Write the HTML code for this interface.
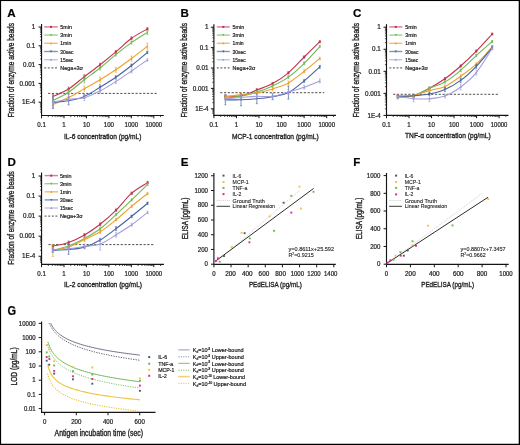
<!DOCTYPE html>
<html><head><meta charset="utf-8"><style>
html,body{margin:0;padding:0;background:#fff;width:520px;height:445px;overflow:hidden;}
svg{display:block;will-change:transform;}
text{stroke:#231f20;stroke-width:0.22px;font-family:"Liberation Sans", sans-serif;}
text.t{stroke-width:0.36px;}
text.s{stroke-width:0.12px;}
</style></head><body>
<svg width="520" height="445" viewBox="0 0 520 445" font-family='"Liberation Sans", sans-serif' fill="#231f20">
<rect x="0" y="0" width="520" height="445" fill="#fff"/>
<line x1="41.55" y1="24" x2="41.55" y2="116.05" stroke="#141414" stroke-width="1.15"/>
<line x1="41" y1="115.5" x2="163.8" y2="115.5" stroke="#141414" stroke-width="1.15"/>
<line x1="38.55" y1="27" x2="41.55" y2="27" stroke="#141414" stroke-width="1"/>
<line x1="38.55" y1="45.8" x2="41.55" y2="45.8" stroke="#141414" stroke-width="1"/>
<line x1="38.55" y1="64.6" x2="41.55" y2="64.6" stroke="#141414" stroke-width="1"/>
<line x1="38.55" y1="83.4" x2="41.55" y2="83.4" stroke="#141414" stroke-width="1"/>
<line x1="38.55" y1="102.2" x2="41.55" y2="102.2" stroke="#141414" stroke-width="1"/>
<line x1="41.55" y1="115.5" x2="41.55" y2="118.3" stroke="#141414" stroke-width="1"/>
<line x1="64" y1="115.5" x2="64" y2="118.3" stroke="#141414" stroke-width="1"/>
<line x1="86.45" y1="115.5" x2="86.45" y2="118.3" stroke="#141414" stroke-width="1"/>
<line x1="108.9" y1="115.5" x2="108.9" y2="118.3" stroke="#141414" stroke-width="1"/>
<line x1="131.35" y1="115.5" x2="131.35" y2="118.3" stroke="#141414" stroke-width="1"/>
<line x1="153.8" y1="115.5" x2="153.8" y2="118.3" stroke="#141414" stroke-width="1"/>
<line x1="39.95" y1="40.14" x2="41.55" y2="40.14" stroke="#141414" stroke-width="0.75"/>
<line x1="39.95" y1="36.83" x2="41.55" y2="36.83" stroke="#141414" stroke-width="0.75"/>
<line x1="39.95" y1="34.48" x2="41.55" y2="34.48" stroke="#141414" stroke-width="0.75"/>
<line x1="39.95" y1="32.66" x2="41.55" y2="32.66" stroke="#141414" stroke-width="0.75"/>
<line x1="39.95" y1="31.17" x2="41.55" y2="31.17" stroke="#141414" stroke-width="0.75"/>
<line x1="39.95" y1="29.91" x2="41.55" y2="29.91" stroke="#141414" stroke-width="0.75"/>
<line x1="39.95" y1="28.82" x2="41.55" y2="28.82" stroke="#141414" stroke-width="0.75"/>
<line x1="39.95" y1="27.86" x2="41.55" y2="27.86" stroke="#141414" stroke-width="0.75"/>
<line x1="39.95" y1="58.94" x2="41.55" y2="58.94" stroke="#141414" stroke-width="0.75"/>
<line x1="39.95" y1="55.63" x2="41.55" y2="55.63" stroke="#141414" stroke-width="0.75"/>
<line x1="39.95" y1="53.28" x2="41.55" y2="53.28" stroke="#141414" stroke-width="0.75"/>
<line x1="39.95" y1="51.46" x2="41.55" y2="51.46" stroke="#141414" stroke-width="0.75"/>
<line x1="39.95" y1="49.97" x2="41.55" y2="49.97" stroke="#141414" stroke-width="0.75"/>
<line x1="39.95" y1="48.71" x2="41.55" y2="48.71" stroke="#141414" stroke-width="0.75"/>
<line x1="39.95" y1="47.62" x2="41.55" y2="47.62" stroke="#141414" stroke-width="0.75"/>
<line x1="39.95" y1="46.66" x2="41.55" y2="46.66" stroke="#141414" stroke-width="0.75"/>
<line x1="39.95" y1="77.74" x2="41.55" y2="77.74" stroke="#141414" stroke-width="0.75"/>
<line x1="39.95" y1="74.43" x2="41.55" y2="74.43" stroke="#141414" stroke-width="0.75"/>
<line x1="39.95" y1="72.08" x2="41.55" y2="72.08" stroke="#141414" stroke-width="0.75"/>
<line x1="39.95" y1="70.26" x2="41.55" y2="70.26" stroke="#141414" stroke-width="0.75"/>
<line x1="39.95" y1="68.77" x2="41.55" y2="68.77" stroke="#141414" stroke-width="0.75"/>
<line x1="39.95" y1="67.51" x2="41.55" y2="67.51" stroke="#141414" stroke-width="0.75"/>
<line x1="39.95" y1="66.42" x2="41.55" y2="66.42" stroke="#141414" stroke-width="0.75"/>
<line x1="39.95" y1="65.46" x2="41.55" y2="65.46" stroke="#141414" stroke-width="0.75"/>
<line x1="39.95" y1="96.54" x2="41.55" y2="96.54" stroke="#141414" stroke-width="0.75"/>
<line x1="39.95" y1="93.23" x2="41.55" y2="93.23" stroke="#141414" stroke-width="0.75"/>
<line x1="39.95" y1="90.88" x2="41.55" y2="90.88" stroke="#141414" stroke-width="0.75"/>
<line x1="39.95" y1="89.06" x2="41.55" y2="89.06" stroke="#141414" stroke-width="0.75"/>
<line x1="39.95" y1="87.57" x2="41.55" y2="87.57" stroke="#141414" stroke-width="0.75"/>
<line x1="39.95" y1="86.31" x2="41.55" y2="86.31" stroke="#141414" stroke-width="0.75"/>
<line x1="39.95" y1="85.22" x2="41.55" y2="85.22" stroke="#141414" stroke-width="0.75"/>
<line x1="39.95" y1="84.26" x2="41.55" y2="84.26" stroke="#141414" stroke-width="0.75"/>
<line x1="39.95" y1="112.03" x2="41.55" y2="112.03" stroke="#141414" stroke-width="0.75"/>
<line x1="39.95" y1="109.68" x2="41.55" y2="109.68" stroke="#141414" stroke-width="0.75"/>
<line x1="39.95" y1="107.86" x2="41.55" y2="107.86" stroke="#141414" stroke-width="0.75"/>
<line x1="39.95" y1="106.37" x2="41.55" y2="106.37" stroke="#141414" stroke-width="0.75"/>
<line x1="39.95" y1="105.11" x2="41.55" y2="105.11" stroke="#141414" stroke-width="0.75"/>
<line x1="39.95" y1="104.02" x2="41.55" y2="104.02" stroke="#141414" stroke-width="0.75"/>
<line x1="39.95" y1="103.06" x2="41.55" y2="103.06" stroke="#141414" stroke-width="0.75"/>
<line x1="48.31" y1="115.5" x2="48.31" y2="117.1" stroke="#141414" stroke-width="0.75"/>
<line x1="52.26" y1="115.5" x2="52.26" y2="117.1" stroke="#141414" stroke-width="0.75"/>
<line x1="55.07" y1="115.5" x2="55.07" y2="117.1" stroke="#141414" stroke-width="0.75"/>
<line x1="57.24" y1="115.5" x2="57.24" y2="117.1" stroke="#141414" stroke-width="0.75"/>
<line x1="59.02" y1="115.5" x2="59.02" y2="117.1" stroke="#141414" stroke-width="0.75"/>
<line x1="60.52" y1="115.5" x2="60.52" y2="117.1" stroke="#141414" stroke-width="0.75"/>
<line x1="61.82" y1="115.5" x2="61.82" y2="117.1" stroke="#141414" stroke-width="0.75"/>
<line x1="62.97" y1="115.5" x2="62.97" y2="117.1" stroke="#141414" stroke-width="0.75"/>
<line x1="70.76" y1="115.5" x2="70.76" y2="117.1" stroke="#141414" stroke-width="0.75"/>
<line x1="74.71" y1="115.5" x2="74.71" y2="117.1" stroke="#141414" stroke-width="0.75"/>
<line x1="77.52" y1="115.5" x2="77.52" y2="117.1" stroke="#141414" stroke-width="0.75"/>
<line x1="79.69" y1="115.5" x2="79.69" y2="117.1" stroke="#141414" stroke-width="0.75"/>
<line x1="81.47" y1="115.5" x2="81.47" y2="117.1" stroke="#141414" stroke-width="0.75"/>
<line x1="82.97" y1="115.5" x2="82.97" y2="117.1" stroke="#141414" stroke-width="0.75"/>
<line x1="84.27" y1="115.5" x2="84.27" y2="117.1" stroke="#141414" stroke-width="0.75"/>
<line x1="85.42" y1="115.5" x2="85.42" y2="117.1" stroke="#141414" stroke-width="0.75"/>
<line x1="93.21" y1="115.5" x2="93.21" y2="117.1" stroke="#141414" stroke-width="0.75"/>
<line x1="97.16" y1="115.5" x2="97.16" y2="117.1" stroke="#141414" stroke-width="0.75"/>
<line x1="99.97" y1="115.5" x2="99.97" y2="117.1" stroke="#141414" stroke-width="0.75"/>
<line x1="102.14" y1="115.5" x2="102.14" y2="117.1" stroke="#141414" stroke-width="0.75"/>
<line x1="103.92" y1="115.5" x2="103.92" y2="117.1" stroke="#141414" stroke-width="0.75"/>
<line x1="105.42" y1="115.5" x2="105.42" y2="117.1" stroke="#141414" stroke-width="0.75"/>
<line x1="106.72" y1="115.5" x2="106.72" y2="117.1" stroke="#141414" stroke-width="0.75"/>
<line x1="107.87" y1="115.5" x2="107.87" y2="117.1" stroke="#141414" stroke-width="0.75"/>
<line x1="115.66" y1="115.5" x2="115.66" y2="117.1" stroke="#141414" stroke-width="0.75"/>
<line x1="119.61" y1="115.5" x2="119.61" y2="117.1" stroke="#141414" stroke-width="0.75"/>
<line x1="122.42" y1="115.5" x2="122.42" y2="117.1" stroke="#141414" stroke-width="0.75"/>
<line x1="124.59" y1="115.5" x2="124.59" y2="117.1" stroke="#141414" stroke-width="0.75"/>
<line x1="126.37" y1="115.5" x2="126.37" y2="117.1" stroke="#141414" stroke-width="0.75"/>
<line x1="127.87" y1="115.5" x2="127.87" y2="117.1" stroke="#141414" stroke-width="0.75"/>
<line x1="129.17" y1="115.5" x2="129.17" y2="117.1" stroke="#141414" stroke-width="0.75"/>
<line x1="130.32" y1="115.5" x2="130.32" y2="117.1" stroke="#141414" stroke-width="0.75"/>
<line x1="138.11" y1="115.5" x2="138.11" y2="117.1" stroke="#141414" stroke-width="0.75"/>
<line x1="142.06" y1="115.5" x2="142.06" y2="117.1" stroke="#141414" stroke-width="0.75"/>
<line x1="144.87" y1="115.5" x2="144.87" y2="117.1" stroke="#141414" stroke-width="0.75"/>
<line x1="147.04" y1="115.5" x2="147.04" y2="117.1" stroke="#141414" stroke-width="0.75"/>
<line x1="148.82" y1="115.5" x2="148.82" y2="117.1" stroke="#141414" stroke-width="0.75"/>
<line x1="150.32" y1="115.5" x2="150.32" y2="117.1" stroke="#141414" stroke-width="0.75"/>
<line x1="151.62" y1="115.5" x2="151.62" y2="117.1" stroke="#141414" stroke-width="0.75"/>
<line x1="152.77" y1="115.5" x2="152.77" y2="117.1" stroke="#141414" stroke-width="0.75"/>
<line x1="160.56" y1="115.5" x2="160.56" y2="117.1" stroke="#141414" stroke-width="0.75"/>
<text x="35.3" y="29.2" font-size="6.3" text-anchor="end">1</text>
<text x="35.3" y="48" font-size="6.3" text-anchor="end">0.1</text>
<text x="35.3" y="66.8" font-size="6.3" text-anchor="end">0.01</text>
<text x="35.3" y="85.6" font-size="6.3" text-anchor="end">0.001</text>
<text x="35.3" y="104.4" font-size="6.3" text-anchor="end">1E-4</text>
<text x="41.55" y="126.9" font-size="6.3" text-anchor="middle" textLength="8.6" lengthAdjust="spacingAndGlyphs">0.1</text>
<text x="64" y="126.9" font-size="6.3" text-anchor="middle" textLength="3.4" lengthAdjust="spacingAndGlyphs">1</text>
<text x="86.45" y="126.9" font-size="6.3" text-anchor="middle" textLength="6.9" lengthAdjust="spacingAndGlyphs">10</text>
<text x="108.9" y="126.9" font-size="6.3" text-anchor="middle" textLength="10.3" lengthAdjust="spacingAndGlyphs">100</text>
<text x="131.35" y="126.9" font-size="6.3" text-anchor="middle" textLength="13.6" lengthAdjust="spacingAndGlyphs">1000</text>
<text x="153.8" y="126.9" font-size="6.3" text-anchor="middle" textLength="16.6" lengthAdjust="spacingAndGlyphs">10000</text>
<text x="64" y="138.8" font-size="8.1" class="t" textLength="77.5" lengthAdjust="spacingAndGlyphs">IL-6 concentration (pg/mL)</text>
<text x="0" y="0" font-size="8.6" text-anchor="middle" class="t" textLength="94.4" lengthAdjust="spacingAndGlyphs" transform="translate(14.3 70.2) rotate(-90)">Fraction of enzyme active beads</text>
<text x="7.3" y="16.8" font-size="11.6" font-weight="bold" fill="#000">A</text>
<line x1="48.1" y1="93.4" x2="157" y2="93.4" stroke="#3a3a3a" stroke-width="0.9" stroke-dasharray="2.2 1.6"/>
<path d="M53 96.5C55.6 95.25 63.38 92.3 68.6 89C73.82 85.7 79.05 80.75 84.3 76.7C89.55 72.65 94.85 68.83 100.1 64.7C105.35 60.57 110.57 56.3 115.8 51.9C121.03 47.5 126.23 42.13 131.5 38.3C136.77 34.47 144.75 30.47 147.4 28.9" fill="none" stroke="#c4304e" stroke-width="1.1"/>
<line x1="53" y1="94.5" x2="53" y2="98.5" stroke="#c4304e" stroke-width="0.7"/>
<line x1="52" y1="94.5" x2="54" y2="94.5" stroke="#c4304e" stroke-width="0.6"/>
<line x1="52" y1="98.5" x2="54" y2="98.5" stroke="#c4304e" stroke-width="0.6"/>
<rect x="52" y="95.5" width="2" height="2" fill="#c4304e"/>
<line x1="68.6" y1="87" x2="68.6" y2="91" stroke="#c4304e" stroke-width="0.7"/>
<line x1="67.6" y1="87" x2="69.6" y2="87" stroke="#c4304e" stroke-width="0.6"/>
<line x1="67.6" y1="91" x2="69.6" y2="91" stroke="#c4304e" stroke-width="0.6"/>
<rect x="67.6" y="88" width="2" height="2" fill="#c4304e"/>
<line x1="84.3" y1="74.7" x2="84.3" y2="78.7" stroke="#c4304e" stroke-width="0.7"/>
<line x1="83.3" y1="74.7" x2="85.3" y2="74.7" stroke="#c4304e" stroke-width="0.6"/>
<line x1="83.3" y1="78.7" x2="85.3" y2="78.7" stroke="#c4304e" stroke-width="0.6"/>
<rect x="83.3" y="75.7" width="2" height="2" fill="#c4304e"/>
<line x1="100.1" y1="63.2" x2="100.1" y2="66.2" stroke="#c4304e" stroke-width="0.7"/>
<line x1="99.1" y1="63.2" x2="101.1" y2="63.2" stroke="#c4304e" stroke-width="0.6"/>
<line x1="99.1" y1="66.2" x2="101.1" y2="66.2" stroke="#c4304e" stroke-width="0.6"/>
<rect x="99.1" y="63.7" width="2" height="2" fill="#c4304e"/>
<line x1="115.8" y1="50.4" x2="115.8" y2="53.4" stroke="#c4304e" stroke-width="0.7"/>
<line x1="114.8" y1="50.4" x2="116.8" y2="50.4" stroke="#c4304e" stroke-width="0.6"/>
<line x1="114.8" y1="53.4" x2="116.8" y2="53.4" stroke="#c4304e" stroke-width="0.6"/>
<rect x="114.8" y="50.9" width="2" height="2" fill="#c4304e"/>
<line x1="131.5" y1="36.8" x2="131.5" y2="39.8" stroke="#c4304e" stroke-width="0.7"/>
<line x1="130.5" y1="36.8" x2="132.5" y2="36.8" stroke="#c4304e" stroke-width="0.6"/>
<line x1="130.5" y1="39.8" x2="132.5" y2="39.8" stroke="#c4304e" stroke-width="0.6"/>
<rect x="130.5" y="37.3" width="2" height="2" fill="#c4304e"/>
<line x1="147.4" y1="27.7" x2="147.4" y2="30.1" stroke="#c4304e" stroke-width="0.7"/>
<line x1="146.4" y1="27.7" x2="148.4" y2="27.7" stroke="#c4304e" stroke-width="0.6"/>
<line x1="146.4" y1="30.1" x2="148.4" y2="30.1" stroke="#c4304e" stroke-width="0.6"/>
<rect x="146.4" y="27.9" width="2" height="2" fill="#c4304e"/>
<path d="M53 100.5C55.6 99.13 63.38 95.75 68.6 92.3C73.82 88.85 79.05 83.85 84.3 79.8C89.55 75.75 94.85 72.2 100.1 68C105.35 63.8 110.57 58.83 115.8 54.6C121.03 50.37 126.23 46.3 131.5 42.6C136.77 38.9 144.75 34.1 147.4 32.4" fill="none" stroke="#6cbb55" stroke-width="1.1"/>
<line x1="53" y1="98.5" x2="53" y2="102.5" stroke="#6cbb55" stroke-width="0.7"/>
<line x1="52" y1="98.5" x2="54" y2="98.5" stroke="#6cbb55" stroke-width="0.6"/>
<line x1="52" y1="102.5" x2="54" y2="102.5" stroke="#6cbb55" stroke-width="0.6"/>
<path d="M53 101.7L54.2 99.5L51.8 99.5Z" fill="#6cbb55"/>
<line x1="68.6" y1="89.8" x2="68.6" y2="94.8" stroke="#6cbb55" stroke-width="0.7"/>
<line x1="67.6" y1="89.8" x2="69.6" y2="89.8" stroke="#6cbb55" stroke-width="0.6"/>
<line x1="67.6" y1="94.8" x2="69.6" y2="94.8" stroke="#6cbb55" stroke-width="0.6"/>
<path d="M68.6 93.5L69.8 91.3L67.4 91.3Z" fill="#6cbb55"/>
<line x1="84.3" y1="76.8" x2="84.3" y2="82.8" stroke="#6cbb55" stroke-width="0.7"/>
<line x1="83.3" y1="76.8" x2="85.3" y2="76.8" stroke="#6cbb55" stroke-width="0.6"/>
<line x1="83.3" y1="82.8" x2="85.3" y2="82.8" stroke="#6cbb55" stroke-width="0.6"/>
<path d="M84.3 81L85.5 78.8L83.1 78.8Z" fill="#6cbb55"/>
<line x1="100.1" y1="66" x2="100.1" y2="70" stroke="#6cbb55" stroke-width="0.7"/>
<line x1="99.1" y1="66" x2="101.1" y2="66" stroke="#6cbb55" stroke-width="0.6"/>
<line x1="99.1" y1="70" x2="101.1" y2="70" stroke="#6cbb55" stroke-width="0.6"/>
<path d="M100.1 69.2L101.3 67L98.9 67Z" fill="#6cbb55"/>
<line x1="115.8" y1="53.1" x2="115.8" y2="56.1" stroke="#6cbb55" stroke-width="0.7"/>
<line x1="114.8" y1="53.1" x2="116.8" y2="53.1" stroke="#6cbb55" stroke-width="0.6"/>
<line x1="114.8" y1="56.1" x2="116.8" y2="56.1" stroke="#6cbb55" stroke-width="0.6"/>
<path d="M115.8 55.8L117 53.6L114.6 53.6Z" fill="#6cbb55"/>
<line x1="131.5" y1="41.1" x2="131.5" y2="44.1" stroke="#6cbb55" stroke-width="0.7"/>
<line x1="130.5" y1="41.1" x2="132.5" y2="41.1" stroke="#6cbb55" stroke-width="0.6"/>
<line x1="130.5" y1="44.1" x2="132.5" y2="44.1" stroke="#6cbb55" stroke-width="0.6"/>
<path d="M131.5 43.8L132.7 41.6L130.3 41.6Z" fill="#6cbb55"/>
<line x1="147.4" y1="30.4" x2="147.4" y2="34.4" stroke="#6cbb55" stroke-width="0.7"/>
<line x1="146.4" y1="30.4" x2="148.4" y2="30.4" stroke="#6cbb55" stroke-width="0.6"/>
<line x1="146.4" y1="34.4" x2="148.4" y2="34.4" stroke="#6cbb55" stroke-width="0.6"/>
<path d="M147.4 33.6L148.6 31.4L146.2 31.4Z" fill="#6cbb55"/>
<path d="M53 104.5C55.6 103.33 63.38 100.13 68.6 97.5C73.82 94.87 79.05 91.67 84.3 88.7C89.55 85.73 94.85 82.85 100.1 79.7C105.35 76.55 110.57 73.33 115.8 69.8C121.03 66.27 126.23 62.43 131.5 58.5C136.77 54.57 144.75 48.25 147.4 46.2" fill="none" stroke="#eea02c" stroke-width="1.1"/>
<line x1="53" y1="101.5" x2="53" y2="107.5" stroke="#eea02c" stroke-width="0.7"/>
<line x1="52" y1="101.5" x2="54" y2="101.5" stroke="#eea02c" stroke-width="0.6"/>
<line x1="52" y1="107.5" x2="54" y2="107.5" stroke="#eea02c" stroke-width="0.6"/>
<path d="M53 103.3L54.2 105.5L51.8 105.5Z" fill="#eea02c"/>
<line x1="68.6" y1="94.5" x2="68.6" y2="100.5" stroke="#eea02c" stroke-width="0.7"/>
<line x1="67.6" y1="94.5" x2="69.6" y2="94.5" stroke="#eea02c" stroke-width="0.6"/>
<line x1="67.6" y1="100.5" x2="69.6" y2="100.5" stroke="#eea02c" stroke-width="0.6"/>
<path d="M68.6 96.3L69.8 98.5L67.4 98.5Z" fill="#eea02c"/>
<line x1="84.3" y1="86.2" x2="84.3" y2="91.2" stroke="#eea02c" stroke-width="0.7"/>
<line x1="83.3" y1="86.2" x2="85.3" y2="86.2" stroke="#eea02c" stroke-width="0.6"/>
<line x1="83.3" y1="91.2" x2="85.3" y2="91.2" stroke="#eea02c" stroke-width="0.6"/>
<path d="M84.3 87.5L85.5 89.7L83.1 89.7Z" fill="#eea02c"/>
<line x1="100.1" y1="77.2" x2="100.1" y2="82.2" stroke="#eea02c" stroke-width="0.7"/>
<line x1="99.1" y1="77.2" x2="101.1" y2="77.2" stroke="#eea02c" stroke-width="0.6"/>
<line x1="99.1" y1="82.2" x2="101.1" y2="82.2" stroke="#eea02c" stroke-width="0.6"/>
<path d="M100.1 78.5L101.3 80.7L98.9 80.7Z" fill="#eea02c"/>
<line x1="115.8" y1="67.3" x2="115.8" y2="72.3" stroke="#eea02c" stroke-width="0.7"/>
<line x1="114.8" y1="67.3" x2="116.8" y2="67.3" stroke="#eea02c" stroke-width="0.6"/>
<line x1="114.8" y1="72.3" x2="116.8" y2="72.3" stroke="#eea02c" stroke-width="0.6"/>
<path d="M115.8 68.6L117 70.8L114.6 70.8Z" fill="#eea02c"/>
<line x1="131.5" y1="56" x2="131.5" y2="61" stroke="#eea02c" stroke-width="0.7"/>
<line x1="130.5" y1="56" x2="132.5" y2="56" stroke="#eea02c" stroke-width="0.6"/>
<line x1="130.5" y1="61" x2="132.5" y2="61" stroke="#eea02c" stroke-width="0.6"/>
<path d="M131.5 57.3L132.7 59.5L130.3 59.5Z" fill="#eea02c"/>
<line x1="147.4" y1="43.2" x2="147.4" y2="49.2" stroke="#eea02c" stroke-width="0.7"/>
<line x1="146.4" y1="43.2" x2="148.4" y2="43.2" stroke="#eea02c" stroke-width="0.6"/>
<line x1="146.4" y1="49.2" x2="148.4" y2="49.2" stroke="#eea02c" stroke-width="0.6"/>
<path d="M147.4 45L148.6 47.2L146.2 47.2Z" fill="#eea02c"/>
<path d="M53 102.5C55.6 102.22 63.38 101.8 68.6 100.8C73.82 99.8 79.05 98.75 84.3 96.5C89.55 94.25 94.85 90.5 100.1 87.3C105.35 84.1 110.57 80.93 115.8 77.3C121.03 73.67 126.23 69.65 131.5 65.5C136.77 61.35 144.75 54.58 147.4 52.4" fill="none" stroke="#43649f" stroke-width="1.1"/>
<line x1="53" y1="96.5" x2="53" y2="108.5" stroke="#43649f" stroke-width="0.7"/>
<line x1="52" y1="96.5" x2="54" y2="96.5" stroke="#43649f" stroke-width="0.6"/>
<line x1="52" y1="108.5" x2="54" y2="108.5" stroke="#43649f" stroke-width="0.6"/>
<path d="M53 103.7L54.2 101.5L51.8 101.5Z" fill="#43649f"/>
<line x1="68.6" y1="96.8" x2="68.6" y2="104.8" stroke="#43649f" stroke-width="0.7"/>
<line x1="67.6" y1="96.8" x2="69.6" y2="96.8" stroke="#43649f" stroke-width="0.6"/>
<line x1="67.6" y1="104.8" x2="69.6" y2="104.8" stroke="#43649f" stroke-width="0.6"/>
<path d="M68.6 102L69.8 99.8L67.4 99.8Z" fill="#43649f"/>
<line x1="84.3" y1="94.5" x2="84.3" y2="98.5" stroke="#43649f" stroke-width="0.7"/>
<line x1="83.3" y1="94.5" x2="85.3" y2="94.5" stroke="#43649f" stroke-width="0.6"/>
<line x1="83.3" y1="98.5" x2="85.3" y2="98.5" stroke="#43649f" stroke-width="0.6"/>
<path d="M84.3 97.7L85.5 95.5L83.1 95.5Z" fill="#43649f"/>
<line x1="100.1" y1="84.8" x2="100.1" y2="89.8" stroke="#43649f" stroke-width="0.7"/>
<line x1="99.1" y1="84.8" x2="101.1" y2="84.8" stroke="#43649f" stroke-width="0.6"/>
<line x1="99.1" y1="89.8" x2="101.1" y2="89.8" stroke="#43649f" stroke-width="0.6"/>
<path d="M100.1 88.5L101.3 86.3L98.9 86.3Z" fill="#43649f"/>
<line x1="115.8" y1="75.8" x2="115.8" y2="78.8" stroke="#43649f" stroke-width="0.7"/>
<line x1="114.8" y1="75.8" x2="116.8" y2="75.8" stroke="#43649f" stroke-width="0.6"/>
<line x1="114.8" y1="78.8" x2="116.8" y2="78.8" stroke="#43649f" stroke-width="0.6"/>
<path d="M115.8 78.5L117 76.3L114.6 76.3Z" fill="#43649f"/>
<line x1="131.5" y1="64" x2="131.5" y2="67" stroke="#43649f" stroke-width="0.7"/>
<line x1="130.5" y1="64" x2="132.5" y2="64" stroke="#43649f" stroke-width="0.6"/>
<line x1="130.5" y1="67" x2="132.5" y2="67" stroke="#43649f" stroke-width="0.6"/>
<path d="M131.5 66.7L132.7 64.5L130.3 64.5Z" fill="#43649f"/>
<line x1="147.4" y1="51.2" x2="147.4" y2="53.6" stroke="#43649f" stroke-width="0.7"/>
<line x1="146.4" y1="51.2" x2="148.4" y2="51.2" stroke="#43649f" stroke-width="0.6"/>
<line x1="146.4" y1="53.6" x2="148.4" y2="53.6" stroke="#43649f" stroke-width="0.6"/>
<path d="M147.4 53.6L148.6 51.4L146.2 51.4Z" fill="#43649f"/>
<path d="M53 102C55.6 101.53 63.38 99.92 68.6 99.2C73.82 98.48 79.05 99.08 84.3 97.7C89.55 96.32 94.85 93.58 100.1 90.9C105.35 88.22 110.57 84.92 115.8 81.6C121.03 78.28 126.23 74.62 131.5 71C136.77 67.38 144.75 61.75 147.4 59.9" fill="none" stroke="#a29ddd" stroke-width="1.1"/>
<line x1="53" y1="96" x2="53" y2="108" stroke="#a29ddd" stroke-width="0.7"/>
<line x1="52" y1="96" x2="54" y2="96" stroke="#a29ddd" stroke-width="0.6"/>
<line x1="52" y1="108" x2="54" y2="108" stroke="#a29ddd" stroke-width="0.6"/>
<path d="M53 100.8L54.2 103L51.8 103Z" fill="#a29ddd"/>
<line x1="68.6" y1="94.2" x2="68.6" y2="104.2" stroke="#a29ddd" stroke-width="0.7"/>
<line x1="67.6" y1="94.2" x2="69.6" y2="94.2" stroke="#a29ddd" stroke-width="0.6"/>
<line x1="67.6" y1="104.2" x2="69.6" y2="104.2" stroke="#a29ddd" stroke-width="0.6"/>
<path d="M68.6 98L69.8 100.2L67.4 100.2Z" fill="#a29ddd"/>
<line x1="84.3" y1="94.7" x2="84.3" y2="100.7" stroke="#a29ddd" stroke-width="0.7"/>
<line x1="83.3" y1="94.7" x2="85.3" y2="94.7" stroke="#a29ddd" stroke-width="0.6"/>
<line x1="83.3" y1="100.7" x2="85.3" y2="100.7" stroke="#a29ddd" stroke-width="0.6"/>
<path d="M84.3 96.5L85.5 98.7L83.1 98.7Z" fill="#a29ddd"/>
<line x1="100.1" y1="88.9" x2="100.1" y2="92.9" stroke="#a29ddd" stroke-width="0.7"/>
<line x1="99.1" y1="88.9" x2="101.1" y2="88.9" stroke="#a29ddd" stroke-width="0.6"/>
<line x1="99.1" y1="92.9" x2="101.1" y2="92.9" stroke="#a29ddd" stroke-width="0.6"/>
<path d="M100.1 89.7L101.3 91.9L98.9 91.9Z" fill="#a29ddd"/>
<line x1="115.8" y1="79.6" x2="115.8" y2="83.6" stroke="#a29ddd" stroke-width="0.7"/>
<line x1="114.8" y1="79.6" x2="116.8" y2="79.6" stroke="#a29ddd" stroke-width="0.6"/>
<line x1="114.8" y1="83.6" x2="116.8" y2="83.6" stroke="#a29ddd" stroke-width="0.6"/>
<path d="M115.8 80.4L117 82.6L114.6 82.6Z" fill="#a29ddd"/>
<line x1="131.5" y1="69" x2="131.5" y2="73" stroke="#a29ddd" stroke-width="0.7"/>
<line x1="130.5" y1="69" x2="132.5" y2="69" stroke="#a29ddd" stroke-width="0.6"/>
<line x1="130.5" y1="73" x2="132.5" y2="73" stroke="#a29ddd" stroke-width="0.6"/>
<path d="M131.5 69.8L132.7 72L130.3 72Z" fill="#a29ddd"/>
<line x1="147.4" y1="58.7" x2="147.4" y2="61.1" stroke="#a29ddd" stroke-width="0.7"/>
<line x1="146.4" y1="58.7" x2="148.4" y2="58.7" stroke="#a29ddd" stroke-width="0.6"/>
<line x1="146.4" y1="61.1" x2="148.4" y2="61.1" stroke="#a29ddd" stroke-width="0.6"/>
<path d="M147.4 58.7L148.6 60.9L146.2 60.9Z" fill="#a29ddd"/>
<line x1="44.2" y1="26.9" x2="57.8" y2="26.9" stroke="#d77d90" stroke-width="1.4"/>
<rect x="50" y="25.9" width="2" height="2" fill="#c4304e"/>
<text x="60.3" y="28.9" font-size="5.6" textLength="11.6" lengthAdjust="spacingAndGlyphs">5min</text>
<line x1="44.2" y1="35.1" x2="57.8" y2="35.1" stroke="#9dd38d" stroke-width="1.4"/>
<path d="M51 36.3L52.2 34.1L49.8 34.1Z" fill="#6cbb55"/>
<text x="60.3" y="37.1" font-size="5.6" textLength="11.6" lengthAdjust="spacingAndGlyphs">3min</text>
<line x1="44.2" y1="43.3" x2="57.8" y2="43.3" stroke="#f2bc6a" stroke-width="1.4"/>
<path d="M51 42.1L52.2 44.3L49.8 44.3Z" fill="#eea02c"/>
<text x="60.3" y="45.3" font-size="5.6" textLength="11" lengthAdjust="spacingAndGlyphs">1min</text>
<line x1="44.2" y1="51.5" x2="57.8" y2="51.5" stroke="#7c95c0" stroke-width="1.4"/>
<path d="M51 52.7L52.2 50.5L49.8 50.5Z" fill="#43649f"/>
<text x="60.3" y="53.5" font-size="5.6" textLength="13.2" lengthAdjust="spacingAndGlyphs">30sec</text>
<line x1="44.2" y1="59.7" x2="57.8" y2="59.7" stroke="#c5c2ec" stroke-width="1.4"/>
<path d="M51 58.5L52.2 60.7L49.8 60.7Z" fill="#a29ddd"/>
<text x="60.3" y="61.7" font-size="5.6" textLength="13" lengthAdjust="spacingAndGlyphs">15sec</text>
<line x1="44.2" y1="67.9" x2="57.8" y2="67.9" stroke="#3a3a3a" stroke-width="0.9" stroke-dasharray="2 1.6"/>
<text x="60.3" y="69.9" font-size="5.6" textLength="22.7" lengthAdjust="spacingAndGlyphs">Nega+3&#963;</text>
<line x1="213.9" y1="24.2" x2="213.9" y2="115.95" stroke="#141414" stroke-width="1.15"/>
<line x1="213.35" y1="115.4" x2="336" y2="115.4" stroke="#141414" stroke-width="1.15"/>
<line x1="210.9" y1="27.2" x2="213.9" y2="27.2" stroke="#141414" stroke-width="1"/>
<line x1="210.9" y1="47.6" x2="213.9" y2="47.6" stroke="#141414" stroke-width="1"/>
<line x1="210.9" y1="68" x2="213.9" y2="68" stroke="#141414" stroke-width="1"/>
<line x1="210.9" y1="88.4" x2="213.9" y2="88.4" stroke="#141414" stroke-width="1"/>
<line x1="210.9" y1="108.8" x2="213.9" y2="108.8" stroke="#141414" stroke-width="1"/>
<line x1="213.9" y1="115.4" x2="213.9" y2="118.2" stroke="#141414" stroke-width="1"/>
<line x1="236.46" y1="115.4" x2="236.46" y2="118.2" stroke="#141414" stroke-width="1"/>
<line x1="259.02" y1="115.4" x2="259.02" y2="118.2" stroke="#141414" stroke-width="1"/>
<line x1="281.58" y1="115.4" x2="281.58" y2="118.2" stroke="#141414" stroke-width="1"/>
<line x1="304.14" y1="115.4" x2="304.14" y2="118.2" stroke="#141414" stroke-width="1"/>
<line x1="326.7" y1="115.4" x2="326.7" y2="118.2" stroke="#141414" stroke-width="1"/>
<line x1="212.3" y1="41.46" x2="213.9" y2="41.46" stroke="#141414" stroke-width="0.75"/>
<line x1="212.3" y1="37.87" x2="213.9" y2="37.87" stroke="#141414" stroke-width="0.75"/>
<line x1="212.3" y1="35.32" x2="213.9" y2="35.32" stroke="#141414" stroke-width="0.75"/>
<line x1="212.3" y1="33.34" x2="213.9" y2="33.34" stroke="#141414" stroke-width="0.75"/>
<line x1="212.3" y1="31.73" x2="213.9" y2="31.73" stroke="#141414" stroke-width="0.75"/>
<line x1="212.3" y1="30.36" x2="213.9" y2="30.36" stroke="#141414" stroke-width="0.75"/>
<line x1="212.3" y1="29.18" x2="213.9" y2="29.18" stroke="#141414" stroke-width="0.75"/>
<line x1="212.3" y1="28.13" x2="213.9" y2="28.13" stroke="#141414" stroke-width="0.75"/>
<line x1="212.3" y1="61.86" x2="213.9" y2="61.86" stroke="#141414" stroke-width="0.75"/>
<line x1="212.3" y1="58.27" x2="213.9" y2="58.27" stroke="#141414" stroke-width="0.75"/>
<line x1="212.3" y1="55.72" x2="213.9" y2="55.72" stroke="#141414" stroke-width="0.75"/>
<line x1="212.3" y1="53.74" x2="213.9" y2="53.74" stroke="#141414" stroke-width="0.75"/>
<line x1="212.3" y1="52.13" x2="213.9" y2="52.13" stroke="#141414" stroke-width="0.75"/>
<line x1="212.3" y1="50.76" x2="213.9" y2="50.76" stroke="#141414" stroke-width="0.75"/>
<line x1="212.3" y1="49.58" x2="213.9" y2="49.58" stroke="#141414" stroke-width="0.75"/>
<line x1="212.3" y1="48.53" x2="213.9" y2="48.53" stroke="#141414" stroke-width="0.75"/>
<line x1="212.3" y1="82.26" x2="213.9" y2="82.26" stroke="#141414" stroke-width="0.75"/>
<line x1="212.3" y1="78.67" x2="213.9" y2="78.67" stroke="#141414" stroke-width="0.75"/>
<line x1="212.3" y1="76.12" x2="213.9" y2="76.12" stroke="#141414" stroke-width="0.75"/>
<line x1="212.3" y1="74.14" x2="213.9" y2="74.14" stroke="#141414" stroke-width="0.75"/>
<line x1="212.3" y1="72.53" x2="213.9" y2="72.53" stroke="#141414" stroke-width="0.75"/>
<line x1="212.3" y1="71.16" x2="213.9" y2="71.16" stroke="#141414" stroke-width="0.75"/>
<line x1="212.3" y1="69.98" x2="213.9" y2="69.98" stroke="#141414" stroke-width="0.75"/>
<line x1="212.3" y1="68.93" x2="213.9" y2="68.93" stroke="#141414" stroke-width="0.75"/>
<line x1="212.3" y1="102.66" x2="213.9" y2="102.66" stroke="#141414" stroke-width="0.75"/>
<line x1="212.3" y1="99.07" x2="213.9" y2="99.07" stroke="#141414" stroke-width="0.75"/>
<line x1="212.3" y1="96.52" x2="213.9" y2="96.52" stroke="#141414" stroke-width="0.75"/>
<line x1="212.3" y1="94.54" x2="213.9" y2="94.54" stroke="#141414" stroke-width="0.75"/>
<line x1="212.3" y1="92.93" x2="213.9" y2="92.93" stroke="#141414" stroke-width="0.75"/>
<line x1="212.3" y1="91.56" x2="213.9" y2="91.56" stroke="#141414" stroke-width="0.75"/>
<line x1="212.3" y1="90.38" x2="213.9" y2="90.38" stroke="#141414" stroke-width="0.75"/>
<line x1="212.3" y1="89.33" x2="213.9" y2="89.33" stroke="#141414" stroke-width="0.75"/>
<line x1="212.3" y1="113.33" x2="213.9" y2="113.33" stroke="#141414" stroke-width="0.75"/>
<line x1="212.3" y1="111.96" x2="213.9" y2="111.96" stroke="#141414" stroke-width="0.75"/>
<line x1="212.3" y1="110.78" x2="213.9" y2="110.78" stroke="#141414" stroke-width="0.75"/>
<line x1="212.3" y1="109.73" x2="213.9" y2="109.73" stroke="#141414" stroke-width="0.75"/>
<line x1="220.69" y1="115.4" x2="220.69" y2="117" stroke="#141414" stroke-width="0.75"/>
<line x1="224.66" y1="115.4" x2="224.66" y2="117" stroke="#141414" stroke-width="0.75"/>
<line x1="227.48" y1="115.4" x2="227.48" y2="117" stroke="#141414" stroke-width="0.75"/>
<line x1="229.67" y1="115.4" x2="229.67" y2="117" stroke="#141414" stroke-width="0.75"/>
<line x1="231.46" y1="115.4" x2="231.46" y2="117" stroke="#141414" stroke-width="0.75"/>
<line x1="232.97" y1="115.4" x2="232.97" y2="117" stroke="#141414" stroke-width="0.75"/>
<line x1="234.27" y1="115.4" x2="234.27" y2="117" stroke="#141414" stroke-width="0.75"/>
<line x1="235.43" y1="115.4" x2="235.43" y2="117" stroke="#141414" stroke-width="0.75"/>
<line x1="243.25" y1="115.4" x2="243.25" y2="117" stroke="#141414" stroke-width="0.75"/>
<line x1="247.22" y1="115.4" x2="247.22" y2="117" stroke="#141414" stroke-width="0.75"/>
<line x1="250.04" y1="115.4" x2="250.04" y2="117" stroke="#141414" stroke-width="0.75"/>
<line x1="252.23" y1="115.4" x2="252.23" y2="117" stroke="#141414" stroke-width="0.75"/>
<line x1="254.02" y1="115.4" x2="254.02" y2="117" stroke="#141414" stroke-width="0.75"/>
<line x1="255.53" y1="115.4" x2="255.53" y2="117" stroke="#141414" stroke-width="0.75"/>
<line x1="256.83" y1="115.4" x2="256.83" y2="117" stroke="#141414" stroke-width="0.75"/>
<line x1="257.99" y1="115.4" x2="257.99" y2="117" stroke="#141414" stroke-width="0.75"/>
<line x1="265.81" y1="115.4" x2="265.81" y2="117" stroke="#141414" stroke-width="0.75"/>
<line x1="269.78" y1="115.4" x2="269.78" y2="117" stroke="#141414" stroke-width="0.75"/>
<line x1="272.6" y1="115.4" x2="272.6" y2="117" stroke="#141414" stroke-width="0.75"/>
<line x1="274.79" y1="115.4" x2="274.79" y2="117" stroke="#141414" stroke-width="0.75"/>
<line x1="276.58" y1="115.4" x2="276.58" y2="117" stroke="#141414" stroke-width="0.75"/>
<line x1="278.09" y1="115.4" x2="278.09" y2="117" stroke="#141414" stroke-width="0.75"/>
<line x1="279.39" y1="115.4" x2="279.39" y2="117" stroke="#141414" stroke-width="0.75"/>
<line x1="280.55" y1="115.4" x2="280.55" y2="117" stroke="#141414" stroke-width="0.75"/>
<line x1="288.37" y1="115.4" x2="288.37" y2="117" stroke="#141414" stroke-width="0.75"/>
<line x1="292.34" y1="115.4" x2="292.34" y2="117" stroke="#141414" stroke-width="0.75"/>
<line x1="295.16" y1="115.4" x2="295.16" y2="117" stroke="#141414" stroke-width="0.75"/>
<line x1="297.35" y1="115.4" x2="297.35" y2="117" stroke="#141414" stroke-width="0.75"/>
<line x1="299.14" y1="115.4" x2="299.14" y2="117" stroke="#141414" stroke-width="0.75"/>
<line x1="300.65" y1="115.4" x2="300.65" y2="117" stroke="#141414" stroke-width="0.75"/>
<line x1="301.95" y1="115.4" x2="301.95" y2="117" stroke="#141414" stroke-width="0.75"/>
<line x1="303.11" y1="115.4" x2="303.11" y2="117" stroke="#141414" stroke-width="0.75"/>
<line x1="310.93" y1="115.4" x2="310.93" y2="117" stroke="#141414" stroke-width="0.75"/>
<line x1="314.9" y1="115.4" x2="314.9" y2="117" stroke="#141414" stroke-width="0.75"/>
<line x1="317.72" y1="115.4" x2="317.72" y2="117" stroke="#141414" stroke-width="0.75"/>
<line x1="319.91" y1="115.4" x2="319.91" y2="117" stroke="#141414" stroke-width="0.75"/>
<line x1="321.7" y1="115.4" x2="321.7" y2="117" stroke="#141414" stroke-width="0.75"/>
<line x1="323.21" y1="115.4" x2="323.21" y2="117" stroke="#141414" stroke-width="0.75"/>
<line x1="324.51" y1="115.4" x2="324.51" y2="117" stroke="#141414" stroke-width="0.75"/>
<line x1="325.67" y1="115.4" x2="325.67" y2="117" stroke="#141414" stroke-width="0.75"/>
<line x1="333.49" y1="115.4" x2="333.49" y2="117" stroke="#141414" stroke-width="0.75"/>
<text x="208.6" y="29.4" font-size="6.3" text-anchor="end">1</text>
<text x="208.6" y="49.8" font-size="6.3" text-anchor="end">0.1</text>
<text x="208.6" y="70.2" font-size="6.3" text-anchor="end">0.01</text>
<text x="208.6" y="90.6" font-size="6.3" text-anchor="end">0.001</text>
<text x="208.6" y="111" font-size="6.3" text-anchor="end">1E-4</text>
<text x="213.9" y="126.8" font-size="6.3" text-anchor="middle" textLength="8.6" lengthAdjust="spacingAndGlyphs">0.1</text>
<text x="236.46" y="126.8" font-size="6.3" text-anchor="middle" textLength="3.4" lengthAdjust="spacingAndGlyphs">1</text>
<text x="259.02" y="126.8" font-size="6.3" text-anchor="middle" textLength="6.9" lengthAdjust="spacingAndGlyphs">10</text>
<text x="281.58" y="126.8" font-size="6.3" text-anchor="middle" textLength="10.3" lengthAdjust="spacingAndGlyphs">100</text>
<text x="304.14" y="126.8" font-size="6.3" text-anchor="middle" textLength="13.6" lengthAdjust="spacingAndGlyphs">1000</text>
<text x="326.7" y="126.8" font-size="6.3" text-anchor="middle" textLength="16.6" lengthAdjust="spacingAndGlyphs">10000</text>
<text x="231.9" y="138.6" font-size="8.1" class="t" textLength="86.8" lengthAdjust="spacingAndGlyphs">MCP-1 concentration (pg/mL)</text>
<text x="0" y="0" font-size="8.6" text-anchor="middle" class="t" textLength="94.4" lengthAdjust="spacingAndGlyphs" transform="translate(186.8 70.2) rotate(-90)">Fraction of enzyme active beads</text>
<text x="180.6" y="16.8" font-size="11.6" font-weight="bold" fill="#000">B</text>
<line x1="220.2" y1="92.7" x2="324.3" y2="92.7" stroke="#3a3a3a" stroke-width="0.9" stroke-dasharray="2.2 1.6"/>
<path d="M225.4 96.3C228 96.22 235.77 96.85 241 95.8C246.23 94.75 251.53 92.03 256.8 90C262.07 87.97 267.33 86.47 272.6 83.6C277.87 80.73 283.13 77.23 288.4 72.8C293.67 68.37 298.97 62.18 304.2 57C309.43 51.82 317.2 44.25 319.8 41.7" fill="none" stroke="#c4304e" stroke-width="1.1"/>
<line x1="225.4" y1="94.8" x2="225.4" y2="97.8" stroke="#c4304e" stroke-width="0.7"/>
<line x1="224.4" y1="94.8" x2="226.4" y2="94.8" stroke="#c4304e" stroke-width="0.6"/>
<line x1="224.4" y1="97.8" x2="226.4" y2="97.8" stroke="#c4304e" stroke-width="0.6"/>
<rect x="224.4" y="95.3" width="2" height="2" fill="#c4304e"/>
<line x1="241" y1="94.3" x2="241" y2="97.3" stroke="#c4304e" stroke-width="0.7"/>
<line x1="240" y1="94.3" x2="242" y2="94.3" stroke="#c4304e" stroke-width="0.6"/>
<line x1="240" y1="97.3" x2="242" y2="97.3" stroke="#c4304e" stroke-width="0.6"/>
<rect x="240" y="94.8" width="2" height="2" fill="#c4304e"/>
<line x1="256.8" y1="88.5" x2="256.8" y2="91.5" stroke="#c4304e" stroke-width="0.7"/>
<line x1="255.8" y1="88.5" x2="257.8" y2="88.5" stroke="#c4304e" stroke-width="0.6"/>
<line x1="255.8" y1="91.5" x2="257.8" y2="91.5" stroke="#c4304e" stroke-width="0.6"/>
<rect x="255.8" y="89" width="2" height="2" fill="#c4304e"/>
<line x1="272.6" y1="82.4" x2="272.6" y2="84.8" stroke="#c4304e" stroke-width="0.7"/>
<line x1="271.6" y1="82.4" x2="273.6" y2="82.4" stroke="#c4304e" stroke-width="0.6"/>
<line x1="271.6" y1="84.8" x2="273.6" y2="84.8" stroke="#c4304e" stroke-width="0.6"/>
<rect x="271.6" y="82.6" width="2" height="2" fill="#c4304e"/>
<line x1="288.4" y1="71.6" x2="288.4" y2="74" stroke="#c4304e" stroke-width="0.7"/>
<line x1="287.4" y1="71.6" x2="289.4" y2="71.6" stroke="#c4304e" stroke-width="0.6"/>
<line x1="287.4" y1="74" x2="289.4" y2="74" stroke="#c4304e" stroke-width="0.6"/>
<rect x="287.4" y="71.8" width="2" height="2" fill="#c4304e"/>
<line x1="304.2" y1="55.8" x2="304.2" y2="58.2" stroke="#c4304e" stroke-width="0.7"/>
<line x1="303.2" y1="55.8" x2="305.2" y2="55.8" stroke="#c4304e" stroke-width="0.6"/>
<line x1="303.2" y1="58.2" x2="305.2" y2="58.2" stroke="#c4304e" stroke-width="0.6"/>
<rect x="303.2" y="56" width="2" height="2" fill="#c4304e"/>
<line x1="319.8" y1="40.7" x2="319.8" y2="42.7" stroke="#c4304e" stroke-width="0.7"/>
<line x1="318.8" y1="40.7" x2="320.8" y2="40.7" stroke="#c4304e" stroke-width="0.6"/>
<line x1="318.8" y1="42.7" x2="320.8" y2="42.7" stroke="#c4304e" stroke-width="0.6"/>
<rect x="318.8" y="40.7" width="2" height="2" fill="#c4304e"/>
<path d="M225.4 98.1C228 97.8 235.77 97.3 241 96.3C246.23 95.3 251.53 93.82 256.8 92.1C262.07 90.38 267.33 88.5 272.6 86C277.87 83.5 283.13 80.88 288.4 77.1C293.67 73.32 298.97 68.4 304.2 63.3C309.43 58.2 317.2 49.3 319.8 46.5" fill="none" stroke="#6cbb55" stroke-width="1.1"/>
<line x1="225.4" y1="96.6" x2="225.4" y2="99.6" stroke="#6cbb55" stroke-width="0.7"/>
<line x1="224.4" y1="96.6" x2="226.4" y2="96.6" stroke="#6cbb55" stroke-width="0.6"/>
<line x1="224.4" y1="99.6" x2="226.4" y2="99.6" stroke="#6cbb55" stroke-width="0.6"/>
<path d="M225.4 99.3L226.6 97.1L224.2 97.1Z" fill="#6cbb55"/>
<line x1="241" y1="94.8" x2="241" y2="97.8" stroke="#6cbb55" stroke-width="0.7"/>
<line x1="240" y1="94.8" x2="242" y2="94.8" stroke="#6cbb55" stroke-width="0.6"/>
<line x1="240" y1="97.8" x2="242" y2="97.8" stroke="#6cbb55" stroke-width="0.6"/>
<path d="M241 97.5L242.2 95.3L239.8 95.3Z" fill="#6cbb55"/>
<line x1="256.8" y1="90.6" x2="256.8" y2="93.6" stroke="#6cbb55" stroke-width="0.7"/>
<line x1="255.8" y1="90.6" x2="257.8" y2="90.6" stroke="#6cbb55" stroke-width="0.6"/>
<line x1="255.8" y1="93.6" x2="257.8" y2="93.6" stroke="#6cbb55" stroke-width="0.6"/>
<path d="M256.8 93.3L258 91.1L255.6 91.1Z" fill="#6cbb55"/>
<line x1="272.6" y1="84.5" x2="272.6" y2="87.5" stroke="#6cbb55" stroke-width="0.7"/>
<line x1="271.6" y1="84.5" x2="273.6" y2="84.5" stroke="#6cbb55" stroke-width="0.6"/>
<line x1="271.6" y1="87.5" x2="273.6" y2="87.5" stroke="#6cbb55" stroke-width="0.6"/>
<path d="M272.6 87.2L273.8 85L271.4 85Z" fill="#6cbb55"/>
<line x1="288.4" y1="75.6" x2="288.4" y2="78.6" stroke="#6cbb55" stroke-width="0.7"/>
<line x1="287.4" y1="75.6" x2="289.4" y2="75.6" stroke="#6cbb55" stroke-width="0.6"/>
<line x1="287.4" y1="78.6" x2="289.4" y2="78.6" stroke="#6cbb55" stroke-width="0.6"/>
<path d="M288.4 78.3L289.6 76.1L287.2 76.1Z" fill="#6cbb55"/>
<line x1="304.2" y1="61.8" x2="304.2" y2="64.8" stroke="#6cbb55" stroke-width="0.7"/>
<line x1="303.2" y1="61.8" x2="305.2" y2="61.8" stroke="#6cbb55" stroke-width="0.6"/>
<line x1="303.2" y1="64.8" x2="305.2" y2="64.8" stroke="#6cbb55" stroke-width="0.6"/>
<path d="M304.2 64.5L305.4 62.3L303 62.3Z" fill="#6cbb55"/>
<line x1="319.8" y1="45.3" x2="319.8" y2="47.7" stroke="#6cbb55" stroke-width="0.7"/>
<line x1="318.8" y1="45.3" x2="320.8" y2="45.3" stroke="#6cbb55" stroke-width="0.6"/>
<line x1="318.8" y1="47.7" x2="320.8" y2="47.7" stroke="#6cbb55" stroke-width="0.6"/>
<path d="M319.8 47.7L321 45.5L318.6 45.5Z" fill="#6cbb55"/>
<path d="M225.4 96.9C228 96.52 235.77 95.27 241 94.6C246.23 93.93 251.53 93.85 256.8 92.9C262.07 91.95 267.33 90.55 272.6 88.9C277.87 87.25 283.13 85.93 288.4 83C293.67 80.07 298.97 75.4 304.2 71.3C309.43 67.2 317.2 60.55 319.8 58.4" fill="none" stroke="#eea02c" stroke-width="1.1"/>
<line x1="225.4" y1="95.4" x2="225.4" y2="98.4" stroke="#eea02c" stroke-width="0.7"/>
<line x1="224.4" y1="95.4" x2="226.4" y2="95.4" stroke="#eea02c" stroke-width="0.6"/>
<line x1="224.4" y1="98.4" x2="226.4" y2="98.4" stroke="#eea02c" stroke-width="0.6"/>
<path d="M225.4 95.7L226.6 97.9L224.2 97.9Z" fill="#eea02c"/>
<line x1="241" y1="93.1" x2="241" y2="96.1" stroke="#eea02c" stroke-width="0.7"/>
<line x1="240" y1="93.1" x2="242" y2="93.1" stroke="#eea02c" stroke-width="0.6"/>
<line x1="240" y1="96.1" x2="242" y2="96.1" stroke="#eea02c" stroke-width="0.6"/>
<path d="M241 93.4L242.2 95.6L239.8 95.6Z" fill="#eea02c"/>
<line x1="256.8" y1="91.4" x2="256.8" y2="94.4" stroke="#eea02c" stroke-width="0.7"/>
<line x1="255.8" y1="91.4" x2="257.8" y2="91.4" stroke="#eea02c" stroke-width="0.6"/>
<line x1="255.8" y1="94.4" x2="257.8" y2="94.4" stroke="#eea02c" stroke-width="0.6"/>
<path d="M256.8 91.7L258 93.9L255.6 93.9Z" fill="#eea02c"/>
<line x1="272.6" y1="86.9" x2="272.6" y2="90.9" stroke="#eea02c" stroke-width="0.7"/>
<line x1="271.6" y1="86.9" x2="273.6" y2="86.9" stroke="#eea02c" stroke-width="0.6"/>
<line x1="271.6" y1="90.9" x2="273.6" y2="90.9" stroke="#eea02c" stroke-width="0.6"/>
<path d="M272.6 87.7L273.8 89.9L271.4 89.9Z" fill="#eea02c"/>
<line x1="288.4" y1="81" x2="288.4" y2="85" stroke="#eea02c" stroke-width="0.7"/>
<line x1="287.4" y1="81" x2="289.4" y2="81" stroke="#eea02c" stroke-width="0.6"/>
<line x1="287.4" y1="85" x2="289.4" y2="85" stroke="#eea02c" stroke-width="0.6"/>
<path d="M288.4 81.8L289.6 84L287.2 84Z" fill="#eea02c"/>
<line x1="304.2" y1="69.8" x2="304.2" y2="72.8" stroke="#eea02c" stroke-width="0.7"/>
<line x1="303.2" y1="69.8" x2="305.2" y2="69.8" stroke="#eea02c" stroke-width="0.6"/>
<line x1="303.2" y1="72.8" x2="305.2" y2="72.8" stroke="#eea02c" stroke-width="0.6"/>
<path d="M304.2 70.1L305.4 72.3L303 72.3Z" fill="#eea02c"/>
<line x1="319.8" y1="57.2" x2="319.8" y2="59.6" stroke="#eea02c" stroke-width="0.7"/>
<line x1="318.8" y1="57.2" x2="320.8" y2="57.2" stroke="#eea02c" stroke-width="0.6"/>
<line x1="318.8" y1="59.6" x2="320.8" y2="59.6" stroke="#eea02c" stroke-width="0.6"/>
<path d="M319.8 57.2L321 59.4L318.6 59.4Z" fill="#eea02c"/>
<path d="M225.4 99.8C228 99.8 235.77 99.98 241 99.8C246.23 99.62 251.53 99.22 256.8 98.7C262.07 98.18 267.33 97.72 272.6 96.7C277.87 95.68 283.13 95.23 288.4 92.6C293.67 89.97 298.97 85.18 304.2 80.9C309.43 76.62 317.2 69.23 319.8 66.9" fill="none" stroke="#43649f" stroke-width="1.1"/>
<line x1="225.4" y1="94.8" x2="225.4" y2="104.8" stroke="#43649f" stroke-width="0.7"/>
<line x1="224.4" y1="94.8" x2="226.4" y2="94.8" stroke="#43649f" stroke-width="0.6"/>
<line x1="224.4" y1="104.8" x2="226.4" y2="104.8" stroke="#43649f" stroke-width="0.6"/>
<path d="M225.4 101L226.6 98.8L224.2 98.8Z" fill="#43649f"/>
<line x1="241" y1="93.8" x2="241" y2="105.8" stroke="#43649f" stroke-width="0.7"/>
<line x1="240" y1="93.8" x2="242" y2="93.8" stroke="#43649f" stroke-width="0.6"/>
<line x1="240" y1="105.8" x2="242" y2="105.8" stroke="#43649f" stroke-width="0.6"/>
<path d="M241 101L242.2 98.8L239.8 98.8Z" fill="#43649f"/>
<line x1="256.8" y1="93.7" x2="256.8" y2="103.7" stroke="#43649f" stroke-width="0.7"/>
<line x1="255.8" y1="93.7" x2="257.8" y2="93.7" stroke="#43649f" stroke-width="0.6"/>
<line x1="255.8" y1="103.7" x2="257.8" y2="103.7" stroke="#43649f" stroke-width="0.6"/>
<path d="M256.8 99.9L258 97.7L255.6 97.7Z" fill="#43649f"/>
<line x1="272.6" y1="93.7" x2="272.6" y2="99.7" stroke="#43649f" stroke-width="0.7"/>
<line x1="271.6" y1="93.7" x2="273.6" y2="93.7" stroke="#43649f" stroke-width="0.6"/>
<line x1="271.6" y1="99.7" x2="273.6" y2="99.7" stroke="#43649f" stroke-width="0.6"/>
<path d="M272.6 97.9L273.8 95.7L271.4 95.7Z" fill="#43649f"/>
<line x1="288.4" y1="86.1" x2="288.4" y2="99.1" stroke="#43649f" stroke-width="0.7"/>
<line x1="287.4" y1="86.1" x2="289.4" y2="86.1" stroke="#43649f" stroke-width="0.6"/>
<line x1="287.4" y1="99.1" x2="289.4" y2="99.1" stroke="#43649f" stroke-width="0.6"/>
<path d="M288.4 93.8L289.6 91.6L287.2 91.6Z" fill="#43649f"/>
<line x1="304.2" y1="79.4" x2="304.2" y2="82.4" stroke="#43649f" stroke-width="0.7"/>
<line x1="303.2" y1="79.4" x2="305.2" y2="79.4" stroke="#43649f" stroke-width="0.6"/>
<line x1="303.2" y1="82.4" x2="305.2" y2="82.4" stroke="#43649f" stroke-width="0.6"/>
<path d="M304.2 82.1L305.4 79.9L303 79.9Z" fill="#43649f"/>
<line x1="319.8" y1="65.4" x2="319.8" y2="68.4" stroke="#43649f" stroke-width="0.7"/>
<line x1="318.8" y1="65.4" x2="320.8" y2="65.4" stroke="#43649f" stroke-width="0.6"/>
<line x1="318.8" y1="68.4" x2="320.8" y2="68.4" stroke="#43649f" stroke-width="0.6"/>
<path d="M319.8 68.1L321 65.9L318.6 65.9Z" fill="#43649f"/>
<path d="M225.4 98.7C228 98.5 235.77 97.9 241 97.5C246.23 97.1 251.53 96.48 256.8 96.3C262.07 96.12 267.33 97.12 272.6 96.4C277.87 95.68 283.13 93.53 288.4 92C293.67 90.47 298.97 89.05 304.2 87.2C309.43 85.35 317.2 81.95 319.8 80.9" fill="none" stroke="#a29ddd" stroke-width="1.1"/>
<line x1="225.4" y1="95.7" x2="225.4" y2="101.7" stroke="#a29ddd" stroke-width="0.7"/>
<line x1="224.4" y1="95.7" x2="226.4" y2="95.7" stroke="#a29ddd" stroke-width="0.6"/>
<line x1="224.4" y1="101.7" x2="226.4" y2="101.7" stroke="#a29ddd" stroke-width="0.6"/>
<path d="M225.4 97.5L226.6 99.7L224.2 99.7Z" fill="#a29ddd"/>
<line x1="241" y1="94.5" x2="241" y2="100.5" stroke="#a29ddd" stroke-width="0.7"/>
<line x1="240" y1="94.5" x2="242" y2="94.5" stroke="#a29ddd" stroke-width="0.6"/>
<line x1="240" y1="100.5" x2="242" y2="100.5" stroke="#a29ddd" stroke-width="0.6"/>
<path d="M241 96.3L242.2 98.5L239.8 98.5Z" fill="#a29ddd"/>
<line x1="256.8" y1="93.3" x2="256.8" y2="99.3" stroke="#a29ddd" stroke-width="0.7"/>
<line x1="255.8" y1="93.3" x2="257.8" y2="93.3" stroke="#a29ddd" stroke-width="0.6"/>
<line x1="255.8" y1="99.3" x2="257.8" y2="99.3" stroke="#a29ddd" stroke-width="0.6"/>
<path d="M256.8 95.1L258 97.3L255.6 97.3Z" fill="#a29ddd"/>
<line x1="272.6" y1="93.4" x2="272.6" y2="99.4" stroke="#a29ddd" stroke-width="0.7"/>
<line x1="271.6" y1="93.4" x2="273.6" y2="93.4" stroke="#a29ddd" stroke-width="0.6"/>
<line x1="271.6" y1="99.4" x2="273.6" y2="99.4" stroke="#a29ddd" stroke-width="0.6"/>
<path d="M272.6 95.2L273.8 97.4L271.4 97.4Z" fill="#a29ddd"/>
<line x1="288.4" y1="89.5" x2="288.4" y2="94.5" stroke="#a29ddd" stroke-width="0.7"/>
<line x1="287.4" y1="89.5" x2="289.4" y2="89.5" stroke="#a29ddd" stroke-width="0.6"/>
<line x1="287.4" y1="94.5" x2="289.4" y2="94.5" stroke="#a29ddd" stroke-width="0.6"/>
<path d="M288.4 90.8L289.6 93L287.2 93Z" fill="#a29ddd"/>
<line x1="304.2" y1="85.2" x2="304.2" y2="89.2" stroke="#a29ddd" stroke-width="0.7"/>
<line x1="303.2" y1="85.2" x2="305.2" y2="85.2" stroke="#a29ddd" stroke-width="0.6"/>
<line x1="303.2" y1="89.2" x2="305.2" y2="89.2" stroke="#a29ddd" stroke-width="0.6"/>
<path d="M304.2 86L305.4 88.2L303 88.2Z" fill="#a29ddd"/>
<line x1="319.8" y1="78.9" x2="319.8" y2="82.9" stroke="#a29ddd" stroke-width="0.7"/>
<line x1="318.8" y1="78.9" x2="320.8" y2="78.9" stroke="#a29ddd" stroke-width="0.6"/>
<line x1="318.8" y1="82.9" x2="320.8" y2="82.9" stroke="#a29ddd" stroke-width="0.6"/>
<path d="M319.8 79.7L321 81.9L318.6 81.9Z" fill="#a29ddd"/>
<line x1="216.8" y1="26.9" x2="229.8" y2="26.9" stroke="#d77d90" stroke-width="1.4"/>
<rect x="222.3" y="25.9" width="2" height="2" fill="#c4304e"/>
<text x="232.6" y="28.9" font-size="5.6" textLength="11.6" lengthAdjust="spacingAndGlyphs">5min</text>
<line x1="216.8" y1="35.1" x2="229.8" y2="35.1" stroke="#9dd38d" stroke-width="1.4"/>
<path d="M223.3 36.3L224.5 34.1L222.1 34.1Z" fill="#6cbb55"/>
<text x="232.6" y="37.1" font-size="5.6" textLength="11.6" lengthAdjust="spacingAndGlyphs">3min</text>
<line x1="216.8" y1="43.3" x2="229.8" y2="43.3" stroke="#f2bc6a" stroke-width="1.4"/>
<path d="M223.3 42.1L224.5 44.3L222.1 44.3Z" fill="#eea02c"/>
<text x="232.6" y="45.3" font-size="5.6" textLength="11" lengthAdjust="spacingAndGlyphs">1min</text>
<line x1="216.8" y1="51.5" x2="229.8" y2="51.5" stroke="#7c95c0" stroke-width="1.4"/>
<path d="M223.3 52.7L224.5 50.5L222.1 50.5Z" fill="#43649f"/>
<text x="232.6" y="53.5" font-size="5.6" textLength="13.2" lengthAdjust="spacingAndGlyphs">30sec</text>
<line x1="216.8" y1="59.7" x2="229.8" y2="59.7" stroke="#c5c2ec" stroke-width="1.4"/>
<path d="M223.3 58.5L224.5 60.7L222.1 60.7Z" fill="#a29ddd"/>
<text x="232.6" y="61.7" font-size="5.6" textLength="13" lengthAdjust="spacingAndGlyphs">15sec</text>
<line x1="216.8" y1="67.9" x2="229.8" y2="67.9" stroke="#3a3a3a" stroke-width="0.9" stroke-dasharray="2 1.6"/>
<text x="232.6" y="69.9" font-size="5.6" textLength="22.7" lengthAdjust="spacingAndGlyphs">Nega+3&#963;</text>
<line x1="386.5" y1="24.2" x2="386.5" y2="115.95" stroke="#141414" stroke-width="1.15"/>
<line x1="385.95" y1="115.4" x2="508.5" y2="115.4" stroke="#141414" stroke-width="1.15"/>
<line x1="383.5" y1="27.2" x2="386.5" y2="27.2" stroke="#141414" stroke-width="1"/>
<line x1="383.5" y1="49.25" x2="386.5" y2="49.25" stroke="#141414" stroke-width="1"/>
<line x1="383.5" y1="71.3" x2="386.5" y2="71.3" stroke="#141414" stroke-width="1"/>
<line x1="383.5" y1="93.35" x2="386.5" y2="93.35" stroke="#141414" stroke-width="1"/>
<line x1="383.5" y1="115.4" x2="386.5" y2="115.4" stroke="#141414" stroke-width="1"/>
<line x1="386.5" y1="115.4" x2="386.5" y2="118.2" stroke="#141414" stroke-width="1"/>
<line x1="409.02" y1="115.4" x2="409.02" y2="118.2" stroke="#141414" stroke-width="1"/>
<line x1="431.54" y1="115.4" x2="431.54" y2="118.2" stroke="#141414" stroke-width="1"/>
<line x1="454.06" y1="115.4" x2="454.06" y2="118.2" stroke="#141414" stroke-width="1"/>
<line x1="476.58" y1="115.4" x2="476.58" y2="118.2" stroke="#141414" stroke-width="1"/>
<line x1="499.1" y1="115.4" x2="499.1" y2="118.2" stroke="#141414" stroke-width="1"/>
<line x1="384.9" y1="42.61" x2="386.5" y2="42.61" stroke="#141414" stroke-width="0.75"/>
<line x1="384.9" y1="38.73" x2="386.5" y2="38.73" stroke="#141414" stroke-width="0.75"/>
<line x1="384.9" y1="35.97" x2="386.5" y2="35.97" stroke="#141414" stroke-width="0.75"/>
<line x1="384.9" y1="33.84" x2="386.5" y2="33.84" stroke="#141414" stroke-width="0.75"/>
<line x1="384.9" y1="32.09" x2="386.5" y2="32.09" stroke="#141414" stroke-width="0.75"/>
<line x1="384.9" y1="30.62" x2="386.5" y2="30.62" stroke="#141414" stroke-width="0.75"/>
<line x1="384.9" y1="29.34" x2="386.5" y2="29.34" stroke="#141414" stroke-width="0.75"/>
<line x1="384.9" y1="28.21" x2="386.5" y2="28.21" stroke="#141414" stroke-width="0.75"/>
<line x1="384.9" y1="64.66" x2="386.5" y2="64.66" stroke="#141414" stroke-width="0.75"/>
<line x1="384.9" y1="60.78" x2="386.5" y2="60.78" stroke="#141414" stroke-width="0.75"/>
<line x1="384.9" y1="58.02" x2="386.5" y2="58.02" stroke="#141414" stroke-width="0.75"/>
<line x1="384.9" y1="55.89" x2="386.5" y2="55.89" stroke="#141414" stroke-width="0.75"/>
<line x1="384.9" y1="54.14" x2="386.5" y2="54.14" stroke="#141414" stroke-width="0.75"/>
<line x1="384.9" y1="52.67" x2="386.5" y2="52.67" stroke="#141414" stroke-width="0.75"/>
<line x1="384.9" y1="51.39" x2="386.5" y2="51.39" stroke="#141414" stroke-width="0.75"/>
<line x1="384.9" y1="50.26" x2="386.5" y2="50.26" stroke="#141414" stroke-width="0.75"/>
<line x1="384.9" y1="86.71" x2="386.5" y2="86.71" stroke="#141414" stroke-width="0.75"/>
<line x1="384.9" y1="82.83" x2="386.5" y2="82.83" stroke="#141414" stroke-width="0.75"/>
<line x1="384.9" y1="80.07" x2="386.5" y2="80.07" stroke="#141414" stroke-width="0.75"/>
<line x1="384.9" y1="77.94" x2="386.5" y2="77.94" stroke="#141414" stroke-width="0.75"/>
<line x1="384.9" y1="76.19" x2="386.5" y2="76.19" stroke="#141414" stroke-width="0.75"/>
<line x1="384.9" y1="74.72" x2="386.5" y2="74.72" stroke="#141414" stroke-width="0.75"/>
<line x1="384.9" y1="73.44" x2="386.5" y2="73.44" stroke="#141414" stroke-width="0.75"/>
<line x1="384.9" y1="72.31" x2="386.5" y2="72.31" stroke="#141414" stroke-width="0.75"/>
<line x1="384.9" y1="108.76" x2="386.5" y2="108.76" stroke="#141414" stroke-width="0.75"/>
<line x1="384.9" y1="104.88" x2="386.5" y2="104.88" stroke="#141414" stroke-width="0.75"/>
<line x1="384.9" y1="102.12" x2="386.5" y2="102.12" stroke="#141414" stroke-width="0.75"/>
<line x1="384.9" y1="99.99" x2="386.5" y2="99.99" stroke="#141414" stroke-width="0.75"/>
<line x1="384.9" y1="98.24" x2="386.5" y2="98.24" stroke="#141414" stroke-width="0.75"/>
<line x1="384.9" y1="96.77" x2="386.5" y2="96.77" stroke="#141414" stroke-width="0.75"/>
<line x1="384.9" y1="95.49" x2="386.5" y2="95.49" stroke="#141414" stroke-width="0.75"/>
<line x1="384.9" y1="94.36" x2="386.5" y2="94.36" stroke="#141414" stroke-width="0.75"/>
<line x1="393.28" y1="115.4" x2="393.28" y2="117" stroke="#141414" stroke-width="0.75"/>
<line x1="397.24" y1="115.4" x2="397.24" y2="117" stroke="#141414" stroke-width="0.75"/>
<line x1="400.06" y1="115.4" x2="400.06" y2="117" stroke="#141414" stroke-width="0.75"/>
<line x1="402.24" y1="115.4" x2="402.24" y2="117" stroke="#141414" stroke-width="0.75"/>
<line x1="404.02" y1="115.4" x2="404.02" y2="117" stroke="#141414" stroke-width="0.75"/>
<line x1="405.53" y1="115.4" x2="405.53" y2="117" stroke="#141414" stroke-width="0.75"/>
<line x1="406.84" y1="115.4" x2="406.84" y2="117" stroke="#141414" stroke-width="0.75"/>
<line x1="407.99" y1="115.4" x2="407.99" y2="117" stroke="#141414" stroke-width="0.75"/>
<line x1="415.8" y1="115.4" x2="415.8" y2="117" stroke="#141414" stroke-width="0.75"/>
<line x1="419.76" y1="115.4" x2="419.76" y2="117" stroke="#141414" stroke-width="0.75"/>
<line x1="422.58" y1="115.4" x2="422.58" y2="117" stroke="#141414" stroke-width="0.75"/>
<line x1="424.76" y1="115.4" x2="424.76" y2="117" stroke="#141414" stroke-width="0.75"/>
<line x1="426.54" y1="115.4" x2="426.54" y2="117" stroke="#141414" stroke-width="0.75"/>
<line x1="428.05" y1="115.4" x2="428.05" y2="117" stroke="#141414" stroke-width="0.75"/>
<line x1="429.36" y1="115.4" x2="429.36" y2="117" stroke="#141414" stroke-width="0.75"/>
<line x1="430.51" y1="115.4" x2="430.51" y2="117" stroke="#141414" stroke-width="0.75"/>
<line x1="438.32" y1="115.4" x2="438.32" y2="117" stroke="#141414" stroke-width="0.75"/>
<line x1="442.28" y1="115.4" x2="442.28" y2="117" stroke="#141414" stroke-width="0.75"/>
<line x1="445.1" y1="115.4" x2="445.1" y2="117" stroke="#141414" stroke-width="0.75"/>
<line x1="447.28" y1="115.4" x2="447.28" y2="117" stroke="#141414" stroke-width="0.75"/>
<line x1="449.06" y1="115.4" x2="449.06" y2="117" stroke="#141414" stroke-width="0.75"/>
<line x1="450.57" y1="115.4" x2="450.57" y2="117" stroke="#141414" stroke-width="0.75"/>
<line x1="451.88" y1="115.4" x2="451.88" y2="117" stroke="#141414" stroke-width="0.75"/>
<line x1="453.03" y1="115.4" x2="453.03" y2="117" stroke="#141414" stroke-width="0.75"/>
<line x1="460.84" y1="115.4" x2="460.84" y2="117" stroke="#141414" stroke-width="0.75"/>
<line x1="464.8" y1="115.4" x2="464.8" y2="117" stroke="#141414" stroke-width="0.75"/>
<line x1="467.62" y1="115.4" x2="467.62" y2="117" stroke="#141414" stroke-width="0.75"/>
<line x1="469.8" y1="115.4" x2="469.8" y2="117" stroke="#141414" stroke-width="0.75"/>
<line x1="471.58" y1="115.4" x2="471.58" y2="117" stroke="#141414" stroke-width="0.75"/>
<line x1="473.09" y1="115.4" x2="473.09" y2="117" stroke="#141414" stroke-width="0.75"/>
<line x1="474.4" y1="115.4" x2="474.4" y2="117" stroke="#141414" stroke-width="0.75"/>
<line x1="475.55" y1="115.4" x2="475.55" y2="117" stroke="#141414" stroke-width="0.75"/>
<line x1="483.36" y1="115.4" x2="483.36" y2="117" stroke="#141414" stroke-width="0.75"/>
<line x1="487.32" y1="115.4" x2="487.32" y2="117" stroke="#141414" stroke-width="0.75"/>
<line x1="490.14" y1="115.4" x2="490.14" y2="117" stroke="#141414" stroke-width="0.75"/>
<line x1="492.32" y1="115.4" x2="492.32" y2="117" stroke="#141414" stroke-width="0.75"/>
<line x1="494.1" y1="115.4" x2="494.1" y2="117" stroke="#141414" stroke-width="0.75"/>
<line x1="495.61" y1="115.4" x2="495.61" y2="117" stroke="#141414" stroke-width="0.75"/>
<line x1="496.92" y1="115.4" x2="496.92" y2="117" stroke="#141414" stroke-width="0.75"/>
<line x1="498.07" y1="115.4" x2="498.07" y2="117" stroke="#141414" stroke-width="0.75"/>
<line x1="505.88" y1="115.4" x2="505.88" y2="117" stroke="#141414" stroke-width="0.75"/>
<text x="380.8" y="29.4" font-size="6.3" text-anchor="end">1</text>
<text x="380.8" y="51.45" font-size="6.3" text-anchor="end">0.1</text>
<text x="380.8" y="73.5" font-size="6.3" text-anchor="end">0.01</text>
<text x="380.8" y="95.55" font-size="6.3" text-anchor="end">0.001</text>
<text x="380.8" y="117.6" font-size="6.3" text-anchor="end">1E-4</text>
<text x="386.5" y="127" font-size="6.3" text-anchor="middle" textLength="8.6" lengthAdjust="spacingAndGlyphs">0.1</text>
<text x="409.02" y="127" font-size="6.3" text-anchor="middle" textLength="3.4" lengthAdjust="spacingAndGlyphs">1</text>
<text x="431.54" y="127" font-size="6.3" text-anchor="middle" textLength="6.9" lengthAdjust="spacingAndGlyphs">10</text>
<text x="454.06" y="127" font-size="6.3" text-anchor="middle" textLength="10.3" lengthAdjust="spacingAndGlyphs">100</text>
<text x="476.58" y="127" font-size="6.3" text-anchor="middle" textLength="13.6" lengthAdjust="spacingAndGlyphs">1000</text>
<text x="499.1" y="127" font-size="6.3" text-anchor="middle" textLength="16.6" lengthAdjust="spacingAndGlyphs">10000</text>
<text x="405" y="138.3" font-size="8.1" class="t" textLength="85.7" lengthAdjust="spacingAndGlyphs">TNF-&#945; concentration (pg/mL)</text>
<text x="0" y="0" font-size="8.6" text-anchor="middle" class="t" textLength="94.4" lengthAdjust="spacingAndGlyphs" transform="translate(359.1 70.2) rotate(-90)">Fraction of enzyme active beads</text>
<text x="353" y="16.8" font-size="11.6" font-weight="bold" fill="#000">C</text>
<line x1="393.1" y1="94.3" x2="499.1" y2="94.3" stroke="#3a3a3a" stroke-width="0.9" stroke-dasharray="2.2 1.6"/>
<path d="M397.7 96C400.35 95.97 408.32 97.08 413.6 95.8C418.88 94.52 424.18 91.13 429.4 88.3C434.62 85.47 439.68 82.52 444.9 78.8C450.12 75.08 455.47 70.62 460.7 66C465.93 61.38 471.05 56.43 476.3 51.1C481.55 45.77 489.55 36.85 492.2 34" fill="none" stroke="#c4304e" stroke-width="1.1"/>
<line x1="397.7" y1="94.5" x2="397.7" y2="97.5" stroke="#c4304e" stroke-width="0.7"/>
<line x1="396.7" y1="94.5" x2="398.7" y2="94.5" stroke="#c4304e" stroke-width="0.6"/>
<line x1="396.7" y1="97.5" x2="398.7" y2="97.5" stroke="#c4304e" stroke-width="0.6"/>
<rect x="396.7" y="95" width="2" height="2" fill="#c4304e"/>
<line x1="413.6" y1="94.6" x2="413.6" y2="97" stroke="#c4304e" stroke-width="0.7"/>
<line x1="412.6" y1="94.6" x2="414.6" y2="94.6" stroke="#c4304e" stroke-width="0.6"/>
<line x1="412.6" y1="97" x2="414.6" y2="97" stroke="#c4304e" stroke-width="0.6"/>
<rect x="412.6" y="94.8" width="2" height="2" fill="#c4304e"/>
<line x1="429.4" y1="87.1" x2="429.4" y2="89.5" stroke="#c4304e" stroke-width="0.7"/>
<line x1="428.4" y1="87.1" x2="430.4" y2="87.1" stroke="#c4304e" stroke-width="0.6"/>
<line x1="428.4" y1="89.5" x2="430.4" y2="89.5" stroke="#c4304e" stroke-width="0.6"/>
<rect x="428.4" y="87.3" width="2" height="2" fill="#c4304e"/>
<line x1="444.9" y1="77.6" x2="444.9" y2="80" stroke="#c4304e" stroke-width="0.7"/>
<line x1="443.9" y1="77.6" x2="445.9" y2="77.6" stroke="#c4304e" stroke-width="0.6"/>
<line x1="443.9" y1="80" x2="445.9" y2="80" stroke="#c4304e" stroke-width="0.6"/>
<rect x="443.9" y="77.8" width="2" height="2" fill="#c4304e"/>
<line x1="460.7" y1="64.8" x2="460.7" y2="67.2" stroke="#c4304e" stroke-width="0.7"/>
<line x1="459.7" y1="64.8" x2="461.7" y2="64.8" stroke="#c4304e" stroke-width="0.6"/>
<line x1="459.7" y1="67.2" x2="461.7" y2="67.2" stroke="#c4304e" stroke-width="0.6"/>
<rect x="459.7" y="65" width="2" height="2" fill="#c4304e"/>
<line x1="476.3" y1="49.9" x2="476.3" y2="52.3" stroke="#c4304e" stroke-width="0.7"/>
<line x1="475.3" y1="49.9" x2="477.3" y2="49.9" stroke="#c4304e" stroke-width="0.6"/>
<line x1="475.3" y1="52.3" x2="477.3" y2="52.3" stroke="#c4304e" stroke-width="0.6"/>
<rect x="475.3" y="50.1" width="2" height="2" fill="#c4304e"/>
<line x1="492.2" y1="33" x2="492.2" y2="35" stroke="#c4304e" stroke-width="0.7"/>
<line x1="491.2" y1="33" x2="493.2" y2="33" stroke="#c4304e" stroke-width="0.6"/>
<line x1="491.2" y1="35" x2="493.2" y2="35" stroke="#c4304e" stroke-width="0.6"/>
<rect x="491.2" y="33" width="2" height="2" fill="#c4304e"/>
<path d="M397.7 97.5C400.35 97.22 408.32 97.33 413.6 95.8C418.88 94.27 424.18 90.6 429.4 88.3C434.62 86 439.68 85 444.9 82C450.12 79 455.47 74.7 460.7 70.3C465.93 65.9 471.05 60.4 476.3 55.6C481.55 50.8 489.55 43.85 492.2 41.5" fill="none" stroke="#6cbb55" stroke-width="1.1"/>
<line x1="397.7" y1="96" x2="397.7" y2="99" stroke="#6cbb55" stroke-width="0.7"/>
<line x1="396.7" y1="96" x2="398.7" y2="96" stroke="#6cbb55" stroke-width="0.6"/>
<line x1="396.7" y1="99" x2="398.7" y2="99" stroke="#6cbb55" stroke-width="0.6"/>
<path d="M397.7 98.7L398.9 96.5L396.5 96.5Z" fill="#6cbb55"/>
<line x1="413.6" y1="94.6" x2="413.6" y2="97" stroke="#6cbb55" stroke-width="0.7"/>
<line x1="412.6" y1="94.6" x2="414.6" y2="94.6" stroke="#6cbb55" stroke-width="0.6"/>
<line x1="412.6" y1="97" x2="414.6" y2="97" stroke="#6cbb55" stroke-width="0.6"/>
<path d="M413.6 97L414.8 94.8L412.4 94.8Z" fill="#6cbb55"/>
<line x1="429.4" y1="86.8" x2="429.4" y2="89.8" stroke="#6cbb55" stroke-width="0.7"/>
<line x1="428.4" y1="86.8" x2="430.4" y2="86.8" stroke="#6cbb55" stroke-width="0.6"/>
<line x1="428.4" y1="89.8" x2="430.4" y2="89.8" stroke="#6cbb55" stroke-width="0.6"/>
<path d="M429.4 89.5L430.6 87.3L428.2 87.3Z" fill="#6cbb55"/>
<line x1="444.9" y1="80.8" x2="444.9" y2="83.2" stroke="#6cbb55" stroke-width="0.7"/>
<line x1="443.9" y1="80.8" x2="445.9" y2="80.8" stroke="#6cbb55" stroke-width="0.6"/>
<line x1="443.9" y1="83.2" x2="445.9" y2="83.2" stroke="#6cbb55" stroke-width="0.6"/>
<path d="M444.9 83.2L446.1 81L443.7 81Z" fill="#6cbb55"/>
<line x1="460.7" y1="69.1" x2="460.7" y2="71.5" stroke="#6cbb55" stroke-width="0.7"/>
<line x1="459.7" y1="69.1" x2="461.7" y2="69.1" stroke="#6cbb55" stroke-width="0.6"/>
<line x1="459.7" y1="71.5" x2="461.7" y2="71.5" stroke="#6cbb55" stroke-width="0.6"/>
<path d="M460.7 71.5L461.9 69.3L459.5 69.3Z" fill="#6cbb55"/>
<line x1="476.3" y1="54.4" x2="476.3" y2="56.8" stroke="#6cbb55" stroke-width="0.7"/>
<line x1="475.3" y1="54.4" x2="477.3" y2="54.4" stroke="#6cbb55" stroke-width="0.6"/>
<line x1="475.3" y1="56.8" x2="477.3" y2="56.8" stroke="#6cbb55" stroke-width="0.6"/>
<path d="M476.3 56.8L477.5 54.6L475.1 54.6Z" fill="#6cbb55"/>
<line x1="492.2" y1="40.5" x2="492.2" y2="42.5" stroke="#6cbb55" stroke-width="0.7"/>
<line x1="491.2" y1="40.5" x2="493.2" y2="40.5" stroke="#6cbb55" stroke-width="0.6"/>
<line x1="491.2" y1="42.5" x2="493.2" y2="42.5" stroke="#6cbb55" stroke-width="0.6"/>
<path d="M492.2 42.7L493.4 40.5L491 40.5Z" fill="#6cbb55"/>
<path d="M397.7 96.6C400.35 96.42 408.32 96.5 413.6 95.5C418.88 94.5 424.18 92.1 429.4 90.6C434.62 89.1 439.68 88.9 444.9 86.5C450.12 84.1 455.47 79.92 460.7 76.2C465.93 72.48 471.05 69.08 476.3 64.2C481.55 59.32 489.55 49.78 492.2 46.9" fill="none" stroke="#eea02c" stroke-width="1.1"/>
<line x1="397.7" y1="95.1" x2="397.7" y2="98.1" stroke="#eea02c" stroke-width="0.7"/>
<line x1="396.7" y1="95.1" x2="398.7" y2="95.1" stroke="#eea02c" stroke-width="0.6"/>
<line x1="396.7" y1="98.1" x2="398.7" y2="98.1" stroke="#eea02c" stroke-width="0.6"/>
<path d="M397.7 95.4L398.9 97.6L396.5 97.6Z" fill="#eea02c"/>
<line x1="413.6" y1="94.3" x2="413.6" y2="96.7" stroke="#eea02c" stroke-width="0.7"/>
<line x1="412.6" y1="94.3" x2="414.6" y2="94.3" stroke="#eea02c" stroke-width="0.6"/>
<line x1="412.6" y1="96.7" x2="414.6" y2="96.7" stroke="#eea02c" stroke-width="0.6"/>
<path d="M413.6 94.3L414.8 96.5L412.4 96.5Z" fill="#eea02c"/>
<line x1="429.4" y1="89.1" x2="429.4" y2="92.1" stroke="#eea02c" stroke-width="0.7"/>
<line x1="428.4" y1="89.1" x2="430.4" y2="89.1" stroke="#eea02c" stroke-width="0.6"/>
<line x1="428.4" y1="92.1" x2="430.4" y2="92.1" stroke="#eea02c" stroke-width="0.6"/>
<path d="M429.4 89.4L430.6 91.6L428.2 91.6Z" fill="#eea02c"/>
<line x1="444.9" y1="85" x2="444.9" y2="88" stroke="#eea02c" stroke-width="0.7"/>
<line x1="443.9" y1="85" x2="445.9" y2="85" stroke="#eea02c" stroke-width="0.6"/>
<line x1="443.9" y1="88" x2="445.9" y2="88" stroke="#eea02c" stroke-width="0.6"/>
<path d="M444.9 85.3L446.1 87.5L443.7 87.5Z" fill="#eea02c"/>
<line x1="460.7" y1="74.7" x2="460.7" y2="77.7" stroke="#eea02c" stroke-width="0.7"/>
<line x1="459.7" y1="74.7" x2="461.7" y2="74.7" stroke="#eea02c" stroke-width="0.6"/>
<line x1="459.7" y1="77.7" x2="461.7" y2="77.7" stroke="#eea02c" stroke-width="0.6"/>
<path d="M460.7 75L461.9 77.2L459.5 77.2Z" fill="#eea02c"/>
<line x1="476.3" y1="62.7" x2="476.3" y2="65.7" stroke="#eea02c" stroke-width="0.7"/>
<line x1="475.3" y1="62.7" x2="477.3" y2="62.7" stroke="#eea02c" stroke-width="0.6"/>
<line x1="475.3" y1="65.7" x2="477.3" y2="65.7" stroke="#eea02c" stroke-width="0.6"/>
<path d="M476.3 63L477.5 65.2L475.1 65.2Z" fill="#eea02c"/>
<line x1="492.2" y1="45.7" x2="492.2" y2="48.1" stroke="#eea02c" stroke-width="0.7"/>
<line x1="491.2" y1="45.7" x2="493.2" y2="45.7" stroke="#eea02c" stroke-width="0.6"/>
<line x1="491.2" y1="48.1" x2="493.2" y2="48.1" stroke="#eea02c" stroke-width="0.6"/>
<path d="M492.2 45.7L493.4 47.9L491 47.9Z" fill="#eea02c"/>
<path d="M397.7 96.6C400.35 96.47 408.32 96.23 413.6 95.8C418.88 95.37 424.18 95.05 429.4 94C434.62 92.95 439.68 91.77 444.9 89.5C450.12 87.23 455.47 84.27 460.7 80.4C465.93 76.53 471.05 71.78 476.3 66.3C481.55 60.82 489.55 50.63 492.2 47.5" fill="none" stroke="#43649f" stroke-width="1.1"/>
<line x1="397.7" y1="95.1" x2="397.7" y2="98.1" stroke="#43649f" stroke-width="0.7"/>
<line x1="396.7" y1="95.1" x2="398.7" y2="95.1" stroke="#43649f" stroke-width="0.6"/>
<line x1="396.7" y1="98.1" x2="398.7" y2="98.1" stroke="#43649f" stroke-width="0.6"/>
<path d="M397.7 97.8L398.9 95.6L396.5 95.6Z" fill="#43649f"/>
<line x1="413.6" y1="94.3" x2="413.6" y2="97.3" stroke="#43649f" stroke-width="0.7"/>
<line x1="412.6" y1="94.3" x2="414.6" y2="94.3" stroke="#43649f" stroke-width="0.6"/>
<line x1="412.6" y1="97.3" x2="414.6" y2="97.3" stroke="#43649f" stroke-width="0.6"/>
<path d="M413.6 97L414.8 94.8L412.4 94.8Z" fill="#43649f"/>
<line x1="429.4" y1="92.5" x2="429.4" y2="95.5" stroke="#43649f" stroke-width="0.7"/>
<line x1="428.4" y1="92.5" x2="430.4" y2="92.5" stroke="#43649f" stroke-width="0.6"/>
<line x1="428.4" y1="95.5" x2="430.4" y2="95.5" stroke="#43649f" stroke-width="0.6"/>
<path d="M429.4 95.2L430.6 93L428.2 93Z" fill="#43649f"/>
<line x1="444.9" y1="87.5" x2="444.9" y2="91.5" stroke="#43649f" stroke-width="0.7"/>
<line x1="443.9" y1="87.5" x2="445.9" y2="87.5" stroke="#43649f" stroke-width="0.6"/>
<line x1="443.9" y1="91.5" x2="445.9" y2="91.5" stroke="#43649f" stroke-width="0.6"/>
<path d="M444.9 90.7L446.1 88.5L443.7 88.5Z" fill="#43649f"/>
<line x1="460.7" y1="78.4" x2="460.7" y2="82.4" stroke="#43649f" stroke-width="0.7"/>
<line x1="459.7" y1="78.4" x2="461.7" y2="78.4" stroke="#43649f" stroke-width="0.6"/>
<line x1="459.7" y1="82.4" x2="461.7" y2="82.4" stroke="#43649f" stroke-width="0.6"/>
<path d="M460.7 81.6L461.9 79.4L459.5 79.4Z" fill="#43649f"/>
<line x1="476.3" y1="64.3" x2="476.3" y2="68.3" stroke="#43649f" stroke-width="0.7"/>
<line x1="475.3" y1="64.3" x2="477.3" y2="64.3" stroke="#43649f" stroke-width="0.6"/>
<line x1="475.3" y1="68.3" x2="477.3" y2="68.3" stroke="#43649f" stroke-width="0.6"/>
<path d="M476.3 67.5L477.5 65.3L475.1 65.3Z" fill="#43649f"/>
<line x1="492.2" y1="46" x2="492.2" y2="49" stroke="#43649f" stroke-width="0.7"/>
<line x1="491.2" y1="46" x2="493.2" y2="46" stroke="#43649f" stroke-width="0.6"/>
<line x1="491.2" y1="49" x2="493.2" y2="49" stroke="#43649f" stroke-width="0.6"/>
<path d="M492.2 48.7L493.4 46.5L491 46.5Z" fill="#43649f"/>
<path d="M397.7 96.6C400.35 96.95 408.32 98.35 413.6 98.7C418.88 99.05 424.18 99.15 429.4 98.7C434.62 98.25 439.68 97.95 444.9 96C450.12 94.05 455.47 90.9 460.7 87C465.93 83.1 471.05 79.03 476.3 72.6C481.55 66.17 489.55 52.43 492.2 48.4" fill="none" stroke="#a29ddd" stroke-width="1.1"/>
<line x1="397.7" y1="95.1" x2="397.7" y2="98.1" stroke="#a29ddd" stroke-width="0.7"/>
<line x1="396.7" y1="95.1" x2="398.7" y2="95.1" stroke="#a29ddd" stroke-width="0.6"/>
<line x1="396.7" y1="98.1" x2="398.7" y2="98.1" stroke="#a29ddd" stroke-width="0.6"/>
<path d="M397.7 95.4L398.9 97.6L396.5 97.6Z" fill="#a29ddd"/>
<line x1="413.6" y1="95.7" x2="413.6" y2="101.7" stroke="#a29ddd" stroke-width="0.7"/>
<line x1="412.6" y1="95.7" x2="414.6" y2="95.7" stroke="#a29ddd" stroke-width="0.6"/>
<line x1="412.6" y1="101.7" x2="414.6" y2="101.7" stroke="#a29ddd" stroke-width="0.6"/>
<path d="M413.6 97.5L414.8 99.7L412.4 99.7Z" fill="#a29ddd"/>
<line x1="429.4" y1="95.7" x2="429.4" y2="101.7" stroke="#a29ddd" stroke-width="0.7"/>
<line x1="428.4" y1="95.7" x2="430.4" y2="95.7" stroke="#a29ddd" stroke-width="0.6"/>
<line x1="428.4" y1="101.7" x2="430.4" y2="101.7" stroke="#a29ddd" stroke-width="0.6"/>
<path d="M429.4 97.5L430.6 99.7L428.2 99.7Z" fill="#a29ddd"/>
<line x1="444.9" y1="94" x2="444.9" y2="98" stroke="#a29ddd" stroke-width="0.7"/>
<line x1="443.9" y1="94" x2="445.9" y2="94" stroke="#a29ddd" stroke-width="0.6"/>
<line x1="443.9" y1="98" x2="445.9" y2="98" stroke="#a29ddd" stroke-width="0.6"/>
<path d="M444.9 94.8L446.1 97L443.7 97Z" fill="#a29ddd"/>
<line x1="460.7" y1="84" x2="460.7" y2="90" stroke="#a29ddd" stroke-width="0.7"/>
<line x1="459.7" y1="84" x2="461.7" y2="84" stroke="#a29ddd" stroke-width="0.6"/>
<line x1="459.7" y1="90" x2="461.7" y2="90" stroke="#a29ddd" stroke-width="0.6"/>
<path d="M460.7 85.8L461.9 88L459.5 88Z" fill="#a29ddd"/>
<line x1="476.3" y1="70.1" x2="476.3" y2="75.1" stroke="#a29ddd" stroke-width="0.7"/>
<line x1="475.3" y1="70.1" x2="477.3" y2="70.1" stroke="#a29ddd" stroke-width="0.6"/>
<line x1="475.3" y1="75.1" x2="477.3" y2="75.1" stroke="#a29ddd" stroke-width="0.6"/>
<path d="M476.3 71.4L477.5 73.6L475.1 73.6Z" fill="#a29ddd"/>
<line x1="492.2" y1="46.9" x2="492.2" y2="49.9" stroke="#a29ddd" stroke-width="0.7"/>
<line x1="491.2" y1="46.9" x2="493.2" y2="46.9" stroke="#a29ddd" stroke-width="0.6"/>
<line x1="491.2" y1="49.9" x2="493.2" y2="49.9" stroke="#a29ddd" stroke-width="0.6"/>
<path d="M492.2 47.2L493.4 49.4L491 49.4Z" fill="#a29ddd"/>
<line x1="389.3" y1="26.9" x2="402.3" y2="26.9" stroke="#d77d90" stroke-width="1.4"/>
<rect x="394.8" y="25.9" width="2" height="2" fill="#c4304e"/>
<text x="405.2" y="28.9" font-size="5.6" textLength="11.6" lengthAdjust="spacingAndGlyphs">5min</text>
<line x1="389.3" y1="35.1" x2="402.3" y2="35.1" stroke="#9dd38d" stroke-width="1.4"/>
<path d="M395.8 36.3L397 34.1L394.6 34.1Z" fill="#6cbb55"/>
<text x="405.2" y="37.1" font-size="5.6" textLength="11.6" lengthAdjust="spacingAndGlyphs">3min</text>
<line x1="389.3" y1="43.3" x2="402.3" y2="43.3" stroke="#f2bc6a" stroke-width="1.4"/>
<path d="M395.8 42.1L397 44.3L394.6 44.3Z" fill="#eea02c"/>
<text x="405.2" y="45.3" font-size="5.6" textLength="11" lengthAdjust="spacingAndGlyphs">1min</text>
<line x1="389.3" y1="51.5" x2="402.3" y2="51.5" stroke="#7c95c0" stroke-width="1.4"/>
<path d="M395.8 52.7L397 50.5L394.6 50.5Z" fill="#43649f"/>
<text x="405.2" y="53.5" font-size="5.6" textLength="13.2" lengthAdjust="spacingAndGlyphs">30sec</text>
<line x1="389.3" y1="59.7" x2="402.3" y2="59.7" stroke="#c5c2ec" stroke-width="1.4"/>
<path d="M395.8 58.5L397 60.7L394.6 60.7Z" fill="#a29ddd"/>
<text x="405.2" y="61.7" font-size="5.6" textLength="13" lengthAdjust="spacingAndGlyphs">15sec</text>
<line x1="389.3" y1="67.9" x2="402.3" y2="67.9" stroke="#3a3a3a" stroke-width="0.9" stroke-dasharray="2 1.6"/>
<text x="405.2" y="69.9" font-size="5.6" textLength="22.7" lengthAdjust="spacingAndGlyphs">Nega+3&#963;</text>
<line x1="41.55" y1="172.5" x2="41.55" y2="264.95" stroke="#141414" stroke-width="1.15"/>
<line x1="41" y1="264.4" x2="163.9" y2="264.4" stroke="#141414" stroke-width="1.15"/>
<line x1="38.55" y1="176" x2="41.55" y2="176" stroke="#141414" stroke-width="1"/>
<line x1="38.55" y1="196.06" x2="41.55" y2="196.06" stroke="#141414" stroke-width="1"/>
<line x1="38.55" y1="216.12" x2="41.55" y2="216.12" stroke="#141414" stroke-width="1"/>
<line x1="38.55" y1="236.18" x2="41.55" y2="236.18" stroke="#141414" stroke-width="1"/>
<line x1="38.55" y1="256.24" x2="41.55" y2="256.24" stroke="#141414" stroke-width="1"/>
<line x1="41.55" y1="264.4" x2="41.55" y2="267.2" stroke="#141414" stroke-width="1"/>
<line x1="64" y1="264.4" x2="64" y2="267.2" stroke="#141414" stroke-width="1"/>
<line x1="86.45" y1="264.4" x2="86.45" y2="267.2" stroke="#141414" stroke-width="1"/>
<line x1="108.9" y1="264.4" x2="108.9" y2="267.2" stroke="#141414" stroke-width="1"/>
<line x1="131.35" y1="264.4" x2="131.35" y2="267.2" stroke="#141414" stroke-width="1"/>
<line x1="153.8" y1="264.4" x2="153.8" y2="267.2" stroke="#141414" stroke-width="1"/>
<line x1="39.95" y1="190.02" x2="41.55" y2="190.02" stroke="#141414" stroke-width="0.75"/>
<line x1="39.95" y1="186.49" x2="41.55" y2="186.49" stroke="#141414" stroke-width="0.75"/>
<line x1="39.95" y1="183.98" x2="41.55" y2="183.98" stroke="#141414" stroke-width="0.75"/>
<line x1="39.95" y1="182.04" x2="41.55" y2="182.04" stroke="#141414" stroke-width="0.75"/>
<line x1="39.95" y1="180.45" x2="41.55" y2="180.45" stroke="#141414" stroke-width="0.75"/>
<line x1="39.95" y1="179.11" x2="41.55" y2="179.11" stroke="#141414" stroke-width="0.75"/>
<line x1="39.95" y1="177.94" x2="41.55" y2="177.94" stroke="#141414" stroke-width="0.75"/>
<line x1="39.95" y1="176.92" x2="41.55" y2="176.92" stroke="#141414" stroke-width="0.75"/>
<line x1="39.95" y1="210.08" x2="41.55" y2="210.08" stroke="#141414" stroke-width="0.75"/>
<line x1="39.95" y1="206.55" x2="41.55" y2="206.55" stroke="#141414" stroke-width="0.75"/>
<line x1="39.95" y1="204.04" x2="41.55" y2="204.04" stroke="#141414" stroke-width="0.75"/>
<line x1="39.95" y1="202.1" x2="41.55" y2="202.1" stroke="#141414" stroke-width="0.75"/>
<line x1="39.95" y1="200.51" x2="41.55" y2="200.51" stroke="#141414" stroke-width="0.75"/>
<line x1="39.95" y1="199.17" x2="41.55" y2="199.17" stroke="#141414" stroke-width="0.75"/>
<line x1="39.95" y1="198" x2="41.55" y2="198" stroke="#141414" stroke-width="0.75"/>
<line x1="39.95" y1="196.98" x2="41.55" y2="196.98" stroke="#141414" stroke-width="0.75"/>
<line x1="39.95" y1="230.14" x2="41.55" y2="230.14" stroke="#141414" stroke-width="0.75"/>
<line x1="39.95" y1="226.61" x2="41.55" y2="226.61" stroke="#141414" stroke-width="0.75"/>
<line x1="39.95" y1="224.1" x2="41.55" y2="224.1" stroke="#141414" stroke-width="0.75"/>
<line x1="39.95" y1="222.16" x2="41.55" y2="222.16" stroke="#141414" stroke-width="0.75"/>
<line x1="39.95" y1="220.57" x2="41.55" y2="220.57" stroke="#141414" stroke-width="0.75"/>
<line x1="39.95" y1="219.23" x2="41.55" y2="219.23" stroke="#141414" stroke-width="0.75"/>
<line x1="39.95" y1="218.06" x2="41.55" y2="218.06" stroke="#141414" stroke-width="0.75"/>
<line x1="39.95" y1="217.04" x2="41.55" y2="217.04" stroke="#141414" stroke-width="0.75"/>
<line x1="39.95" y1="250.2" x2="41.55" y2="250.2" stroke="#141414" stroke-width="0.75"/>
<line x1="39.95" y1="246.67" x2="41.55" y2="246.67" stroke="#141414" stroke-width="0.75"/>
<line x1="39.95" y1="244.16" x2="41.55" y2="244.16" stroke="#141414" stroke-width="0.75"/>
<line x1="39.95" y1="242.22" x2="41.55" y2="242.22" stroke="#141414" stroke-width="0.75"/>
<line x1="39.95" y1="240.63" x2="41.55" y2="240.63" stroke="#141414" stroke-width="0.75"/>
<line x1="39.95" y1="239.29" x2="41.55" y2="239.29" stroke="#141414" stroke-width="0.75"/>
<line x1="39.95" y1="238.12" x2="41.55" y2="238.12" stroke="#141414" stroke-width="0.75"/>
<line x1="39.95" y1="237.1" x2="41.55" y2="237.1" stroke="#141414" stroke-width="0.75"/>
<line x1="39.95" y1="262.28" x2="41.55" y2="262.28" stroke="#141414" stroke-width="0.75"/>
<line x1="39.95" y1="260.69" x2="41.55" y2="260.69" stroke="#141414" stroke-width="0.75"/>
<line x1="39.95" y1="259.35" x2="41.55" y2="259.35" stroke="#141414" stroke-width="0.75"/>
<line x1="39.95" y1="258.18" x2="41.55" y2="258.18" stroke="#141414" stroke-width="0.75"/>
<line x1="39.95" y1="257.16" x2="41.55" y2="257.16" stroke="#141414" stroke-width="0.75"/>
<line x1="48.31" y1="264.4" x2="48.31" y2="266" stroke="#141414" stroke-width="0.75"/>
<line x1="52.26" y1="264.4" x2="52.26" y2="266" stroke="#141414" stroke-width="0.75"/>
<line x1="55.07" y1="264.4" x2="55.07" y2="266" stroke="#141414" stroke-width="0.75"/>
<line x1="57.24" y1="264.4" x2="57.24" y2="266" stroke="#141414" stroke-width="0.75"/>
<line x1="59.02" y1="264.4" x2="59.02" y2="266" stroke="#141414" stroke-width="0.75"/>
<line x1="60.52" y1="264.4" x2="60.52" y2="266" stroke="#141414" stroke-width="0.75"/>
<line x1="61.82" y1="264.4" x2="61.82" y2="266" stroke="#141414" stroke-width="0.75"/>
<line x1="62.97" y1="264.4" x2="62.97" y2="266" stroke="#141414" stroke-width="0.75"/>
<line x1="70.76" y1="264.4" x2="70.76" y2="266" stroke="#141414" stroke-width="0.75"/>
<line x1="74.71" y1="264.4" x2="74.71" y2="266" stroke="#141414" stroke-width="0.75"/>
<line x1="77.52" y1="264.4" x2="77.52" y2="266" stroke="#141414" stroke-width="0.75"/>
<line x1="79.69" y1="264.4" x2="79.69" y2="266" stroke="#141414" stroke-width="0.75"/>
<line x1="81.47" y1="264.4" x2="81.47" y2="266" stroke="#141414" stroke-width="0.75"/>
<line x1="82.97" y1="264.4" x2="82.97" y2="266" stroke="#141414" stroke-width="0.75"/>
<line x1="84.27" y1="264.4" x2="84.27" y2="266" stroke="#141414" stroke-width="0.75"/>
<line x1="85.42" y1="264.4" x2="85.42" y2="266" stroke="#141414" stroke-width="0.75"/>
<line x1="93.21" y1="264.4" x2="93.21" y2="266" stroke="#141414" stroke-width="0.75"/>
<line x1="97.16" y1="264.4" x2="97.16" y2="266" stroke="#141414" stroke-width="0.75"/>
<line x1="99.97" y1="264.4" x2="99.97" y2="266" stroke="#141414" stroke-width="0.75"/>
<line x1="102.14" y1="264.4" x2="102.14" y2="266" stroke="#141414" stroke-width="0.75"/>
<line x1="103.92" y1="264.4" x2="103.92" y2="266" stroke="#141414" stroke-width="0.75"/>
<line x1="105.42" y1="264.4" x2="105.42" y2="266" stroke="#141414" stroke-width="0.75"/>
<line x1="106.72" y1="264.4" x2="106.72" y2="266" stroke="#141414" stroke-width="0.75"/>
<line x1="107.87" y1="264.4" x2="107.87" y2="266" stroke="#141414" stroke-width="0.75"/>
<line x1="115.66" y1="264.4" x2="115.66" y2="266" stroke="#141414" stroke-width="0.75"/>
<line x1="119.61" y1="264.4" x2="119.61" y2="266" stroke="#141414" stroke-width="0.75"/>
<line x1="122.42" y1="264.4" x2="122.42" y2="266" stroke="#141414" stroke-width="0.75"/>
<line x1="124.59" y1="264.4" x2="124.59" y2="266" stroke="#141414" stroke-width="0.75"/>
<line x1="126.37" y1="264.4" x2="126.37" y2="266" stroke="#141414" stroke-width="0.75"/>
<line x1="127.87" y1="264.4" x2="127.87" y2="266" stroke="#141414" stroke-width="0.75"/>
<line x1="129.17" y1="264.4" x2="129.17" y2="266" stroke="#141414" stroke-width="0.75"/>
<line x1="130.32" y1="264.4" x2="130.32" y2="266" stroke="#141414" stroke-width="0.75"/>
<line x1="138.11" y1="264.4" x2="138.11" y2="266" stroke="#141414" stroke-width="0.75"/>
<line x1="142.06" y1="264.4" x2="142.06" y2="266" stroke="#141414" stroke-width="0.75"/>
<line x1="144.87" y1="264.4" x2="144.87" y2="266" stroke="#141414" stroke-width="0.75"/>
<line x1="147.04" y1="264.4" x2="147.04" y2="266" stroke="#141414" stroke-width="0.75"/>
<line x1="148.82" y1="264.4" x2="148.82" y2="266" stroke="#141414" stroke-width="0.75"/>
<line x1="150.32" y1="264.4" x2="150.32" y2="266" stroke="#141414" stroke-width="0.75"/>
<line x1="151.62" y1="264.4" x2="151.62" y2="266" stroke="#141414" stroke-width="0.75"/>
<line x1="152.77" y1="264.4" x2="152.77" y2="266" stroke="#141414" stroke-width="0.75"/>
<line x1="160.56" y1="264.4" x2="160.56" y2="266" stroke="#141414" stroke-width="0.75"/>
<text x="35.3" y="178.2" font-size="6.3" text-anchor="end">1</text>
<text x="35.3" y="198.26" font-size="6.3" text-anchor="end">0.1</text>
<text x="35.3" y="218.32" font-size="6.3" text-anchor="end">0.01</text>
<text x="35.3" y="238.38" font-size="6.3" text-anchor="end">0.001</text>
<text x="35.3" y="258.44" font-size="6.3" text-anchor="end">1E-4</text>
<text x="41.55" y="275.5" font-size="6.3" text-anchor="middle" textLength="8.6" lengthAdjust="spacingAndGlyphs">0.1</text>
<text x="64" y="275.5" font-size="6.3" text-anchor="middle" textLength="3.4" lengthAdjust="spacingAndGlyphs">1</text>
<text x="86.45" y="275.5" font-size="6.3" text-anchor="middle" textLength="6.9" lengthAdjust="spacingAndGlyphs">10</text>
<text x="108.9" y="275.5" font-size="6.3" text-anchor="middle" textLength="10.3" lengthAdjust="spacingAndGlyphs">100</text>
<text x="131.35" y="275.5" font-size="6.3" text-anchor="middle" textLength="13.6" lengthAdjust="spacingAndGlyphs">1000</text>
<text x="153.8" y="275.5" font-size="6.3" text-anchor="middle" textLength="16.6" lengthAdjust="spacingAndGlyphs">10000</text>
<text x="64" y="287.4" font-size="8.1" class="t" textLength="78.1" lengthAdjust="spacingAndGlyphs">IL-2 concentration (pg/mL)</text>
<text x="0" y="0" font-size="8.6" text-anchor="middle" class="t" textLength="93.5" lengthAdjust="spacingAndGlyphs" transform="translate(14.3 218) rotate(-90)">Fraction of enzyme active beads</text>
<text x="7.5" y="165.8" font-size="11.6" font-weight="bold" fill="#000">D</text>
<line x1="48.5" y1="244.6" x2="153.8" y2="244.6" stroke="#3a3a3a" stroke-width="0.9" stroke-dasharray="2.2 1.6"/>
<path d="M52.8 246C55.44 245.42 63.37 244.33 68.65 242.5C73.93 240.67 79.24 238.03 84.5 235C89.76 231.97 94.93 228.45 100.2 224.3C105.47 220.15 110.85 215.28 116.1 210.1C121.35 204.92 126.45 197.78 131.7 193.2C136.95 188.62 144.95 184.37 147.6 182.6" fill="none" stroke="#c4304e" stroke-width="1.1"/>
<line x1="52.8" y1="244.5" x2="52.8" y2="247.5" stroke="#c4304e" stroke-width="0.7"/>
<line x1="51.8" y1="244.5" x2="53.8" y2="244.5" stroke="#c4304e" stroke-width="0.6"/>
<line x1="51.8" y1="247.5" x2="53.8" y2="247.5" stroke="#c4304e" stroke-width="0.6"/>
<rect x="51.8" y="245" width="2" height="2" fill="#c4304e"/>
<line x1="68.65" y1="241" x2="68.65" y2="244" stroke="#c4304e" stroke-width="0.7"/>
<line x1="67.65" y1="241" x2="69.65" y2="241" stroke="#c4304e" stroke-width="0.6"/>
<line x1="67.65" y1="244" x2="69.65" y2="244" stroke="#c4304e" stroke-width="0.6"/>
<rect x="67.65" y="241.5" width="2" height="2" fill="#c4304e"/>
<line x1="84.5" y1="233.5" x2="84.5" y2="236.5" stroke="#c4304e" stroke-width="0.7"/>
<line x1="83.5" y1="233.5" x2="85.5" y2="233.5" stroke="#c4304e" stroke-width="0.6"/>
<line x1="83.5" y1="236.5" x2="85.5" y2="236.5" stroke="#c4304e" stroke-width="0.6"/>
<rect x="83.5" y="234" width="2" height="2" fill="#c4304e"/>
<line x1="100.2" y1="222.8" x2="100.2" y2="225.8" stroke="#c4304e" stroke-width="0.7"/>
<line x1="99.2" y1="222.8" x2="101.2" y2="222.8" stroke="#c4304e" stroke-width="0.6"/>
<line x1="99.2" y1="225.8" x2="101.2" y2="225.8" stroke="#c4304e" stroke-width="0.6"/>
<rect x="99.2" y="223.3" width="2" height="2" fill="#c4304e"/>
<line x1="116.1" y1="208.9" x2="116.1" y2="211.3" stroke="#c4304e" stroke-width="0.7"/>
<line x1="115.1" y1="208.9" x2="117.1" y2="208.9" stroke="#c4304e" stroke-width="0.6"/>
<line x1="115.1" y1="211.3" x2="117.1" y2="211.3" stroke="#c4304e" stroke-width="0.6"/>
<rect x="115.1" y="209.1" width="2" height="2" fill="#c4304e"/>
<line x1="131.7" y1="192" x2="131.7" y2="194.4" stroke="#c4304e" stroke-width="0.7"/>
<line x1="130.7" y1="192" x2="132.7" y2="192" stroke="#c4304e" stroke-width="0.6"/>
<line x1="130.7" y1="194.4" x2="132.7" y2="194.4" stroke="#c4304e" stroke-width="0.6"/>
<rect x="130.7" y="192.2" width="2" height="2" fill="#c4304e"/>
<line x1="147.6" y1="181.4" x2="147.6" y2="183.8" stroke="#c4304e" stroke-width="0.7"/>
<line x1="146.6" y1="181.4" x2="148.6" y2="181.4" stroke="#c4304e" stroke-width="0.6"/>
<line x1="146.6" y1="183.8" x2="148.6" y2="183.8" stroke="#c4304e" stroke-width="0.6"/>
<rect x="146.6" y="181.6" width="2" height="2" fill="#c4304e"/>
<path d="M52.8 250.2C55.44 249.5 63.37 247.95 68.65 246C73.93 244.05 79.24 241.37 84.5 238.5C89.76 235.63 94.93 232.78 100.2 228.8C105.47 224.82 110.85 219.42 116.1 214.6C121.35 209.78 126.45 204.95 131.7 199.9C136.95 194.85 144.95 186.9 147.6 184.3" fill="none" stroke="#6cbb55" stroke-width="1.1"/>
<line x1="52.8" y1="248.7" x2="52.8" y2="251.7" stroke="#6cbb55" stroke-width="0.7"/>
<line x1="51.8" y1="248.7" x2="53.8" y2="248.7" stroke="#6cbb55" stroke-width="0.6"/>
<line x1="51.8" y1="251.7" x2="53.8" y2="251.7" stroke="#6cbb55" stroke-width="0.6"/>
<path d="M52.8 251.4L54 249.2L51.6 249.2Z" fill="#6cbb55"/>
<line x1="68.65" y1="244.5" x2="68.65" y2="247.5" stroke="#6cbb55" stroke-width="0.7"/>
<line x1="67.65" y1="244.5" x2="69.65" y2="244.5" stroke="#6cbb55" stroke-width="0.6"/>
<line x1="67.65" y1="247.5" x2="69.65" y2="247.5" stroke="#6cbb55" stroke-width="0.6"/>
<path d="M68.65 247.2L69.85 245L67.45 245Z" fill="#6cbb55"/>
<line x1="84.5" y1="237" x2="84.5" y2="240" stroke="#6cbb55" stroke-width="0.7"/>
<line x1="83.5" y1="237" x2="85.5" y2="237" stroke="#6cbb55" stroke-width="0.6"/>
<line x1="83.5" y1="240" x2="85.5" y2="240" stroke="#6cbb55" stroke-width="0.6"/>
<path d="M84.5 239.7L85.7 237.5L83.3 237.5Z" fill="#6cbb55"/>
<line x1="100.2" y1="227.3" x2="100.2" y2="230.3" stroke="#6cbb55" stroke-width="0.7"/>
<line x1="99.2" y1="227.3" x2="101.2" y2="227.3" stroke="#6cbb55" stroke-width="0.6"/>
<line x1="99.2" y1="230.3" x2="101.2" y2="230.3" stroke="#6cbb55" stroke-width="0.6"/>
<path d="M100.2 230L101.4 227.8L99 227.8Z" fill="#6cbb55"/>
<line x1="116.1" y1="213.4" x2="116.1" y2="215.8" stroke="#6cbb55" stroke-width="0.7"/>
<line x1="115.1" y1="213.4" x2="117.1" y2="213.4" stroke="#6cbb55" stroke-width="0.6"/>
<line x1="115.1" y1="215.8" x2="117.1" y2="215.8" stroke="#6cbb55" stroke-width="0.6"/>
<path d="M116.1 215.8L117.3 213.6L114.9 213.6Z" fill="#6cbb55"/>
<line x1="131.7" y1="198.7" x2="131.7" y2="201.1" stroke="#6cbb55" stroke-width="0.7"/>
<line x1="130.7" y1="198.7" x2="132.7" y2="198.7" stroke="#6cbb55" stroke-width="0.6"/>
<line x1="130.7" y1="201.1" x2="132.7" y2="201.1" stroke="#6cbb55" stroke-width="0.6"/>
<path d="M131.7 201.1L132.9 198.9L130.5 198.9Z" fill="#6cbb55"/>
<line x1="147.6" y1="183.1" x2="147.6" y2="185.5" stroke="#6cbb55" stroke-width="0.7"/>
<line x1="146.6" y1="183.1" x2="148.6" y2="183.1" stroke="#6cbb55" stroke-width="0.6"/>
<line x1="146.6" y1="185.5" x2="148.6" y2="185.5" stroke="#6cbb55" stroke-width="0.6"/>
<path d="M147.6 185.5L148.8 183.3L146.4 183.3Z" fill="#6cbb55"/>
<path d="M52.8 250.5C55.44 249.93 63.37 248.92 68.65 247.1C73.93 245.28 79.24 242.15 84.5 239.6C89.76 237.05 94.93 235.12 100.2 231.8C105.47 228.48 110.85 223.97 116.1 219.7C121.35 215.43 126.45 210.57 131.7 206.2C136.95 201.83 144.95 195.62 147.6 193.5" fill="none" stroke="#eea02c" stroke-width="1.1"/>
<line x1="52.8" y1="244.5" x2="52.8" y2="256.5" stroke="#eea02c" stroke-width="0.7"/>
<line x1="51.8" y1="244.5" x2="53.8" y2="244.5" stroke="#eea02c" stroke-width="0.6"/>
<line x1="51.8" y1="256.5" x2="53.8" y2="256.5" stroke="#eea02c" stroke-width="0.6"/>
<path d="M52.8 249.3L54 251.5L51.6 251.5Z" fill="#eea02c"/>
<line x1="68.65" y1="245.1" x2="68.65" y2="249.1" stroke="#eea02c" stroke-width="0.7"/>
<line x1="67.65" y1="245.1" x2="69.65" y2="245.1" stroke="#eea02c" stroke-width="0.6"/>
<line x1="67.65" y1="249.1" x2="69.65" y2="249.1" stroke="#eea02c" stroke-width="0.6"/>
<path d="M68.65 245.9L69.85 248.1L67.45 248.1Z" fill="#eea02c"/>
<line x1="84.5" y1="237.6" x2="84.5" y2="241.6" stroke="#eea02c" stroke-width="0.7"/>
<line x1="83.5" y1="237.6" x2="85.5" y2="237.6" stroke="#eea02c" stroke-width="0.6"/>
<line x1="83.5" y1="241.6" x2="85.5" y2="241.6" stroke="#eea02c" stroke-width="0.6"/>
<path d="M84.5 238.4L85.7 240.6L83.3 240.6Z" fill="#eea02c"/>
<line x1="100.2" y1="230.3" x2="100.2" y2="233.3" stroke="#eea02c" stroke-width="0.7"/>
<line x1="99.2" y1="230.3" x2="101.2" y2="230.3" stroke="#eea02c" stroke-width="0.6"/>
<line x1="99.2" y1="233.3" x2="101.2" y2="233.3" stroke="#eea02c" stroke-width="0.6"/>
<path d="M100.2 230.6L101.4 232.8L99 232.8Z" fill="#eea02c"/>
<line x1="116.1" y1="218.5" x2="116.1" y2="220.9" stroke="#eea02c" stroke-width="0.7"/>
<line x1="115.1" y1="218.5" x2="117.1" y2="218.5" stroke="#eea02c" stroke-width="0.6"/>
<line x1="115.1" y1="220.9" x2="117.1" y2="220.9" stroke="#eea02c" stroke-width="0.6"/>
<path d="M116.1 218.5L117.3 220.7L114.9 220.7Z" fill="#eea02c"/>
<line x1="131.7" y1="205" x2="131.7" y2="207.4" stroke="#eea02c" stroke-width="0.7"/>
<line x1="130.7" y1="205" x2="132.7" y2="205" stroke="#eea02c" stroke-width="0.6"/>
<line x1="130.7" y1="207.4" x2="132.7" y2="207.4" stroke="#eea02c" stroke-width="0.6"/>
<path d="M131.7 205L132.9 207.2L130.5 207.2Z" fill="#eea02c"/>
<line x1="147.6" y1="192.3" x2="147.6" y2="194.7" stroke="#eea02c" stroke-width="0.7"/>
<line x1="146.6" y1="192.3" x2="148.6" y2="192.3" stroke="#eea02c" stroke-width="0.6"/>
<line x1="146.6" y1="194.7" x2="148.6" y2="194.7" stroke="#eea02c" stroke-width="0.6"/>
<path d="M147.6 192.3L148.8 194.5L146.4 194.5Z" fill="#eea02c"/>
<path d="M52.8 250.2C55.44 250.07 63.37 249.92 68.65 249.4C73.93 248.88 79.24 248.67 84.5 247.1C89.76 245.53 94.93 243.08 100.2 240C105.47 236.92 110.85 232.55 116.1 228.6C121.35 224.65 126.45 220.52 131.7 216.3C136.95 212.08 144.95 205.47 147.6 203.3" fill="none" stroke="#43649f" stroke-width="1.1"/>
<line x1="52.8" y1="248.2" x2="52.8" y2="252.2" stroke="#43649f" stroke-width="0.7"/>
<line x1="51.8" y1="248.2" x2="53.8" y2="248.2" stroke="#43649f" stroke-width="0.6"/>
<line x1="51.8" y1="252.2" x2="53.8" y2="252.2" stroke="#43649f" stroke-width="0.6"/>
<path d="M52.8 251.4L54 249.2L51.6 249.2Z" fill="#43649f"/>
<line x1="68.65" y1="244.4" x2="68.65" y2="254.4" stroke="#43649f" stroke-width="0.7"/>
<line x1="67.65" y1="244.4" x2="69.65" y2="244.4" stroke="#43649f" stroke-width="0.6"/>
<line x1="67.65" y1="254.4" x2="69.65" y2="254.4" stroke="#43649f" stroke-width="0.6"/>
<path d="M68.65 250.6L69.85 248.4L67.45 248.4Z" fill="#43649f"/>
<line x1="84.5" y1="245.6" x2="84.5" y2="248.6" stroke="#43649f" stroke-width="0.7"/>
<line x1="83.5" y1="245.6" x2="85.5" y2="245.6" stroke="#43649f" stroke-width="0.6"/>
<line x1="83.5" y1="248.6" x2="85.5" y2="248.6" stroke="#43649f" stroke-width="0.6"/>
<path d="M84.5 248.3L85.7 246.1L83.3 246.1Z" fill="#43649f"/>
<line x1="100.2" y1="238.5" x2="100.2" y2="241.5" stroke="#43649f" stroke-width="0.7"/>
<line x1="99.2" y1="238.5" x2="101.2" y2="238.5" stroke="#43649f" stroke-width="0.6"/>
<line x1="99.2" y1="241.5" x2="101.2" y2="241.5" stroke="#43649f" stroke-width="0.6"/>
<path d="M100.2 241.2L101.4 239L99 239Z" fill="#43649f"/>
<line x1="116.1" y1="226.6" x2="116.1" y2="230.6" stroke="#43649f" stroke-width="0.7"/>
<line x1="115.1" y1="226.6" x2="117.1" y2="226.6" stroke="#43649f" stroke-width="0.6"/>
<line x1="115.1" y1="230.6" x2="117.1" y2="230.6" stroke="#43649f" stroke-width="0.6"/>
<path d="M116.1 229.8L117.3 227.6L114.9 227.6Z" fill="#43649f"/>
<line x1="131.7" y1="215.1" x2="131.7" y2="217.5" stroke="#43649f" stroke-width="0.7"/>
<line x1="130.7" y1="215.1" x2="132.7" y2="215.1" stroke="#43649f" stroke-width="0.6"/>
<line x1="130.7" y1="217.5" x2="132.7" y2="217.5" stroke="#43649f" stroke-width="0.6"/>
<path d="M131.7 217.5L132.9 215.3L130.5 215.3Z" fill="#43649f"/>
<line x1="147.6" y1="202.1" x2="147.6" y2="204.5" stroke="#43649f" stroke-width="0.7"/>
<line x1="146.6" y1="202.1" x2="148.6" y2="202.1" stroke="#43649f" stroke-width="0.6"/>
<line x1="146.6" y1="204.5" x2="148.6" y2="204.5" stroke="#43649f" stroke-width="0.6"/>
<path d="M147.6 204.5L148.8 202.3L146.4 202.3Z" fill="#43649f"/>
<path d="M52.8 250C55.44 249.8 63.37 249.38 68.65 248.8C73.93 248.22 79.24 247.28 84.5 246.5C89.76 245.72 94.93 246.05 100.2 244.1C105.47 242.15 110.85 238.03 116.1 234.8C121.35 231.57 126.45 228.43 131.7 224.7C136.95 220.97 144.95 214.45 147.6 212.4" fill="none" stroke="#a29ddd" stroke-width="1.1"/>
<line x1="52.8" y1="248" x2="52.8" y2="252" stroke="#a29ddd" stroke-width="0.7"/>
<line x1="51.8" y1="248" x2="53.8" y2="248" stroke="#a29ddd" stroke-width="0.6"/>
<line x1="51.8" y1="252" x2="53.8" y2="252" stroke="#a29ddd" stroke-width="0.6"/>
<path d="M52.8 248.8L54 251L51.6 251Z" fill="#a29ddd"/>
<line x1="68.65" y1="245.8" x2="68.65" y2="251.8" stroke="#a29ddd" stroke-width="0.7"/>
<line x1="67.65" y1="245.8" x2="69.65" y2="245.8" stroke="#a29ddd" stroke-width="0.6"/>
<line x1="67.65" y1="251.8" x2="69.65" y2="251.8" stroke="#a29ddd" stroke-width="0.6"/>
<path d="M68.65 247.6L69.85 249.8L67.45 249.8Z" fill="#a29ddd"/>
<line x1="84.5" y1="244" x2="84.5" y2="249" stroke="#a29ddd" stroke-width="0.7"/>
<line x1="83.5" y1="244" x2="85.5" y2="244" stroke="#a29ddd" stroke-width="0.6"/>
<line x1="83.5" y1="249" x2="85.5" y2="249" stroke="#a29ddd" stroke-width="0.6"/>
<path d="M84.5 245.3L85.7 247.5L83.3 247.5Z" fill="#a29ddd"/>
<line x1="100.2" y1="238.1" x2="100.2" y2="250.1" stroke="#a29ddd" stroke-width="0.7"/>
<line x1="99.2" y1="238.1" x2="101.2" y2="238.1" stroke="#a29ddd" stroke-width="0.6"/>
<line x1="99.2" y1="250.1" x2="101.2" y2="250.1" stroke="#a29ddd" stroke-width="0.6"/>
<path d="M100.2 242.9L101.4 245.1L99 245.1Z" fill="#a29ddd"/>
<line x1="116.1" y1="232.3" x2="116.1" y2="237.3" stroke="#a29ddd" stroke-width="0.7"/>
<line x1="115.1" y1="232.3" x2="117.1" y2="232.3" stroke="#a29ddd" stroke-width="0.6"/>
<line x1="115.1" y1="237.3" x2="117.1" y2="237.3" stroke="#a29ddd" stroke-width="0.6"/>
<path d="M116.1 233.6L117.3 235.8L114.9 235.8Z" fill="#a29ddd"/>
<line x1="131.7" y1="223.2" x2="131.7" y2="226.2" stroke="#a29ddd" stroke-width="0.7"/>
<line x1="130.7" y1="223.2" x2="132.7" y2="223.2" stroke="#a29ddd" stroke-width="0.6"/>
<line x1="130.7" y1="226.2" x2="132.7" y2="226.2" stroke="#a29ddd" stroke-width="0.6"/>
<path d="M131.7 223.5L132.9 225.7L130.5 225.7Z" fill="#a29ddd"/>
<line x1="147.6" y1="211.2" x2="147.6" y2="213.6" stroke="#a29ddd" stroke-width="0.7"/>
<line x1="146.6" y1="211.2" x2="148.6" y2="211.2" stroke="#a29ddd" stroke-width="0.6"/>
<line x1="146.6" y1="213.6" x2="148.6" y2="213.6" stroke="#a29ddd" stroke-width="0.6"/>
<path d="M147.6 211.2L148.8 213.4L146.4 213.4Z" fill="#a29ddd"/>
<line x1="44.6" y1="175.6" x2="58" y2="175.6" stroke="#d77d90" stroke-width="1.4"/>
<rect x="50.3" y="174.6" width="2" height="2" fill="#c4304e"/>
<text x="59.9" y="177.6" font-size="5.6" textLength="11.6" lengthAdjust="spacingAndGlyphs">5min</text>
<line x1="44.6" y1="183.7" x2="58" y2="183.7" stroke="#9dd38d" stroke-width="1.4"/>
<path d="M51.3 184.9L52.5 182.7L50.1 182.7Z" fill="#6cbb55"/>
<text x="59.9" y="185.7" font-size="5.6" textLength="11.6" lengthAdjust="spacingAndGlyphs">3min</text>
<line x1="44.6" y1="191.8" x2="58" y2="191.8" stroke="#f2bc6a" stroke-width="1.4"/>
<path d="M51.3 190.6L52.5 192.8L50.1 192.8Z" fill="#eea02c"/>
<text x="59.9" y="193.8" font-size="5.6" textLength="11" lengthAdjust="spacingAndGlyphs">1min</text>
<line x1="44.6" y1="199.9" x2="58" y2="199.9" stroke="#7c95c0" stroke-width="1.4"/>
<path d="M51.3 201.1L52.5 198.9L50.1 198.9Z" fill="#43649f"/>
<text x="59.9" y="201.9" font-size="5.6" textLength="13.2" lengthAdjust="spacingAndGlyphs">30sec</text>
<line x1="44.6" y1="208" x2="58" y2="208" stroke="#c5c2ec" stroke-width="1.4"/>
<path d="M51.3 206.8L52.5 209L50.1 209Z" fill="#a29ddd"/>
<text x="59.9" y="210" font-size="5.6" textLength="13" lengthAdjust="spacingAndGlyphs">15sec</text>
<line x1="44.6" y1="216.1" x2="58" y2="216.1" stroke="#3a3a3a" stroke-width="0.9" stroke-dasharray="2 1.6"/>
<text x="59.9" y="218.1" font-size="5.6" textLength="22.7" lengthAdjust="spacingAndGlyphs">Nega+3&#963;</text>
<line x1="213.9" y1="173" x2="213.9" y2="264.95" stroke="#141414" stroke-width="1.15"/>
<line x1="213.35" y1="264.4" x2="335.8" y2="264.4" stroke="#141414" stroke-width="1.15"/>
<line x1="211" y1="264.2" x2="213.9" y2="264.2" stroke="#141414" stroke-width="1"/>
<line x1="211" y1="249.46" x2="213.9" y2="249.46" stroke="#141414" stroke-width="1"/>
<line x1="211" y1="234.72" x2="213.9" y2="234.72" stroke="#141414" stroke-width="1"/>
<line x1="211" y1="219.98" x2="213.9" y2="219.98" stroke="#141414" stroke-width="1"/>
<line x1="211" y1="205.24" x2="213.9" y2="205.24" stroke="#141414" stroke-width="1"/>
<line x1="211" y1="190.5" x2="213.9" y2="190.5" stroke="#141414" stroke-width="1"/>
<line x1="211" y1="175.76" x2="213.9" y2="175.76" stroke="#141414" stroke-width="1"/>
<line x1="213.9" y1="264.4" x2="213.9" y2="267.3" stroke="#141414" stroke-width="1"/>
<line x1="231.03" y1="264.4" x2="231.03" y2="267.3" stroke="#141414" stroke-width="1"/>
<line x1="248.16" y1="264.4" x2="248.16" y2="267.3" stroke="#141414" stroke-width="1"/>
<line x1="265.28" y1="264.4" x2="265.28" y2="267.3" stroke="#141414" stroke-width="1"/>
<line x1="282.41" y1="264.4" x2="282.41" y2="267.3" stroke="#141414" stroke-width="1"/>
<line x1="299.54" y1="264.4" x2="299.54" y2="267.3" stroke="#141414" stroke-width="1"/>
<line x1="316.67" y1="264.4" x2="316.67" y2="267.3" stroke="#141414" stroke-width="1"/>
<line x1="333.8" y1="264.4" x2="333.8" y2="267.3" stroke="#141414" stroke-width="1"/>
<text x="208" y="266.4" font-size="6.3" text-anchor="end" textLength="3.4" lengthAdjust="spacingAndGlyphs">0</text>
<text x="208" y="251.66" font-size="6.3" text-anchor="end" textLength="10.2" lengthAdjust="spacingAndGlyphs">200</text>
<text x="208" y="236.92" font-size="6.3" text-anchor="end" textLength="10.2" lengthAdjust="spacingAndGlyphs">400</text>
<text x="208" y="222.18" font-size="6.3" text-anchor="end" textLength="10.2" lengthAdjust="spacingAndGlyphs">600</text>
<text x="208" y="207.44" font-size="6.3" text-anchor="end" textLength="10.2" lengthAdjust="spacingAndGlyphs">800</text>
<text x="208" y="192.7" font-size="6.3" text-anchor="end" textLength="13.6" lengthAdjust="spacingAndGlyphs">1000</text>
<text x="208" y="177.96" font-size="6.3" text-anchor="end" textLength="13.6" lengthAdjust="spacingAndGlyphs">1200</text>
<text x="213.9" y="275.5" font-size="6.3" text-anchor="middle" textLength="3.35" lengthAdjust="spacingAndGlyphs">0</text>
<text x="230.59" y="275.5" font-size="6.3" text-anchor="middle" textLength="10.65" lengthAdjust="spacingAndGlyphs">200</text>
<text x="247.28" y="275.5" font-size="6.3" text-anchor="middle" textLength="10.65" lengthAdjust="spacingAndGlyphs">400</text>
<text x="263.96" y="275.5" font-size="6.3" text-anchor="middle" textLength="10.65" lengthAdjust="spacingAndGlyphs">600</text>
<text x="280.65" y="275.5" font-size="6.3" text-anchor="middle" textLength="10.65" lengthAdjust="spacingAndGlyphs">800</text>
<text x="297.34" y="275.5" font-size="6.3" text-anchor="middle" textLength="13.4" lengthAdjust="spacingAndGlyphs">1000</text>
<text x="314.03" y="275.5" font-size="6.3" text-anchor="middle" textLength="13.4" lengthAdjust="spacingAndGlyphs">1200</text>
<text x="330.72" y="275.5" font-size="6.3" text-anchor="middle" textLength="13.4" lengthAdjust="spacingAndGlyphs">1400</text>
<text x="248.9" y="287.3" font-size="8.1" class="t" textLength="52.9" lengthAdjust="spacingAndGlyphs">PEdELISA (pg/mL)</text>
<text x="0" y="0" font-size="8.4" text-anchor="middle" class="t" textLength="41.8" lengthAdjust="spacingAndGlyphs" transform="translate(188 218.4) rotate(-90)">ELISA (pg/mL)</text>
<text x="180.8" y="165.8" font-size="11.6" font-weight="bold" fill="#000">E</text>
<line x1="213.9" y1="264.2" x2="299.97" y2="190.13" stroke="#b8b8b8" stroke-width="0.6" stroke-dasharray="1.2 0.9"/>
<line x1="215.18" y1="261.36" x2="313.67" y2="188.38" stroke="#2b2b2b" stroke-width="1"/>
<rect x="240.65" y="231.85" width="1.9" height="1.9" fill="#f5c23a"/>
<rect x="243.65" y="232.25" width="1.9" height="1.9" fill="#50566f"/>
<rect x="248.85" y="237.45" width="1.9" height="1.9" fill="#6ab851"/>
<rect x="248.45" y="241.35" width="1.9" height="1.9" fill="#e0289b"/>
<rect x="230.85" y="246.05" width="1.9" height="1.9" fill="#f5c23a"/>
<rect x="223.05" y="255.05" width="1.9" height="1.9" fill="#50566f"/>
<rect x="216.95" y="257.35" width="1.9" height="1.9" fill="#e0289b"/>
<rect x="215.05" y="259.95" width="1.9" height="1.9" fill="#e0289b"/>
<rect x="218.75" y="260.75" width="1.9" height="1.9" fill="#6ab851"/>
<rect x="298.55" y="185.65" width="1.9" height="1.9" fill="#f5c23a"/>
<rect x="312.55" y="190.85" width="1.9" height="1.9" fill="#6ab851"/>
<rect x="290.35" y="194.85" width="1.9" height="1.9" fill="#6ab851"/>
<rect x="282.65" y="201.75" width="1.9" height="1.9" fill="#50566f"/>
<rect x="299.95" y="207.65" width="1.9" height="1.9" fill="#f5c23a"/>
<rect x="290.35" y="211.65" width="1.9" height="1.9" fill="#e0289b"/>
<rect x="268.75" y="215.45" width="1.9" height="1.9" fill="#f5c23a"/>
<rect x="273.05" y="229.85" width="1.9" height="1.9" fill="#6ab851"/>
<rect x="222.5" y="174.6" width="2" height="2" fill="#50566f"/>
<text x="232.6" y="177.6" font-size="5.5" class="s" textLength="8.7" lengthAdjust="spacingAndGlyphs">IL-6</text>
<rect x="222.5" y="181" width="2" height="2" fill="#f5c23a"/>
<text x="232.6" y="184" font-size="5.5" class="s" textLength="16.1" lengthAdjust="spacingAndGlyphs">MCP-1</text>
<rect x="222.5" y="186.9" width="2" height="2" fill="#6ab851"/>
<text x="232.6" y="189.9" font-size="5.5" class="s" textLength="14.8" lengthAdjust="spacingAndGlyphs">TNF-a</text>
<rect x="222.5" y="193.1" width="2" height="2" fill="#e0289b"/>
<text x="232.6" y="196.1" font-size="5.5" class="s" textLength="8.7" lengthAdjust="spacingAndGlyphs">IL-2</text>
<line x1="216.5" y1="200.5" x2="230" y2="200.5" stroke="#b8b8b8" stroke-width="0.6" stroke-dasharray="1.2 0.9"/>
<text x="232.6" y="202.5" font-size="5.5" class="s" textLength="32.3" lengthAdjust="spacingAndGlyphs">Ground Truth</text>
<line x1="216.5" y1="206.3" x2="230" y2="206.3" stroke="#3a3a3a" stroke-width="1"/>
<text x="232.6" y="208.3" font-size="5.5" class="s" textLength="42.4" lengthAdjust="spacingAndGlyphs">Linear Regression</text>
<text x="288.5" y="250.9" font-size="5.3" class="s" textLength="45.5" lengthAdjust="spacingAndGlyphs">y=0.8611x+25.592</text>
<text x="288.5" y="256.9" font-size="5.3" class="s" textLength="25.2" lengthAdjust="spacingAndGlyphs">R<tspan font-size="3.2" dy="-1.8">2</tspan><tspan dy="1.8">=0.9215</tspan></text>
<line x1="386.5" y1="173" x2="386.5" y2="264.9" stroke="#141414" stroke-width="1.15"/>
<line x1="385.95" y1="264.35" x2="508.7" y2="264.35" stroke="#141414" stroke-width="1.15"/>
<line x1="383.6" y1="264.2" x2="386.5" y2="264.2" stroke="#141414" stroke-width="1"/>
<line x1="383.6" y1="246.48" x2="386.5" y2="246.48" stroke="#141414" stroke-width="1"/>
<line x1="383.6" y1="228.76" x2="386.5" y2="228.76" stroke="#141414" stroke-width="1"/>
<line x1="383.6" y1="211.04" x2="386.5" y2="211.04" stroke="#141414" stroke-width="1"/>
<line x1="383.6" y1="193.32" x2="386.5" y2="193.32" stroke="#141414" stroke-width="1"/>
<line x1="383.6" y1="175.6" x2="386.5" y2="175.6" stroke="#141414" stroke-width="1"/>
<line x1="386.5" y1="264.35" x2="386.5" y2="267.25" stroke="#141414" stroke-width="1"/>
<line x1="410.4" y1="264.35" x2="410.4" y2="267.25" stroke="#141414" stroke-width="1"/>
<line x1="434.3" y1="264.35" x2="434.3" y2="267.25" stroke="#141414" stroke-width="1"/>
<line x1="458.2" y1="264.35" x2="458.2" y2="267.25" stroke="#141414" stroke-width="1"/>
<line x1="482.1" y1="264.35" x2="482.1" y2="267.25" stroke="#141414" stroke-width="1"/>
<line x1="506" y1="264.35" x2="506" y2="267.25" stroke="#141414" stroke-width="1"/>
<text x="380.4" y="266.4" font-size="6.3" text-anchor="end" textLength="3.4" lengthAdjust="spacingAndGlyphs">0</text>
<text x="380.4" y="248.68" font-size="6.3" text-anchor="end" textLength="10.2" lengthAdjust="spacingAndGlyphs">200</text>
<text x="380.4" y="230.96" font-size="6.3" text-anchor="end" textLength="10.2" lengthAdjust="spacingAndGlyphs">400</text>
<text x="380.4" y="213.24" font-size="6.3" text-anchor="end" textLength="10.2" lengthAdjust="spacingAndGlyphs">600</text>
<text x="380.4" y="195.52" font-size="6.3" text-anchor="end" textLength="10.2" lengthAdjust="spacingAndGlyphs">800</text>
<text x="380.4" y="177.8" font-size="6.3" text-anchor="end" textLength="13.6" lengthAdjust="spacingAndGlyphs">1000</text>
<text x="386.5" y="275.5" font-size="6.3" text-anchor="middle" textLength="3.35" lengthAdjust="spacingAndGlyphs">0</text>
<text x="410.4" y="275.5" font-size="6.3" text-anchor="middle" textLength="10.65" lengthAdjust="spacingAndGlyphs">200</text>
<text x="434.3" y="275.5" font-size="6.3" text-anchor="middle" textLength="10.65" lengthAdjust="spacingAndGlyphs">400</text>
<text x="458.2" y="275.5" font-size="6.3" text-anchor="middle" textLength="10.65" lengthAdjust="spacingAndGlyphs">600</text>
<text x="482.1" y="275.5" font-size="6.3" text-anchor="middle" textLength="10.65" lengthAdjust="spacingAndGlyphs">800</text>
<text x="506" y="275.5" font-size="6.3" text-anchor="middle" textLength="13.4" lengthAdjust="spacingAndGlyphs">1000</text>
<text x="421.2" y="287.3" font-size="8.1" class="t" textLength="52.9" lengthAdjust="spacingAndGlyphs">PEdELISA (pg/mL)</text>
<text x="0" y="0" font-size="8.4" text-anchor="middle" class="t" textLength="41.6" lengthAdjust="spacingAndGlyphs" transform="translate(361.5 218.4) rotate(-90)">ELISA (pg/mL)</text>
<text x="353.2" y="165.8" font-size="11.6" font-weight="bold" fill="#000">F</text>
<line x1="386.5" y1="264.2" x2="482.1" y2="193.32" stroke="#b8b8b8" stroke-width="0.6" stroke-dasharray="1.2 0.9"/>
<line x1="387.1" y1="263.16" x2="488.07" y2="197.22" stroke="#2b2b2b" stroke-width="1"/>
<rect x="427.15" y="224.75" width="1.9" height="1.9" fill="#f5c23a"/>
<rect x="411.55" y="240.35" width="1.9" height="1.9" fill="#6ab851"/>
<rect x="411.55" y="244.35" width="1.9" height="1.9" fill="#f5c23a"/>
<rect x="415.05" y="244.85" width="1.9" height="1.9" fill="#e0289b"/>
<rect x="406.75" y="249.55" width="1.9" height="1.9" fill="#50566f"/>
<rect x="399.45" y="251.25" width="1.9" height="1.9" fill="#6ab851"/>
<rect x="399.75" y="254.75" width="1.9" height="1.9" fill="#e0289b"/>
<rect x="402.85" y="254.75" width="1.9" height="1.9" fill="#50566f"/>
<rect x="394.55" y="254.75" width="1.9" height="1.9" fill="#f5c23a"/>
<rect x="392.55" y="258.75" width="1.9" height="1.9" fill="#6ab851"/>
<rect x="389.35" y="259.35" width="1.9" height="1.9" fill="#e0289b"/>
<rect x="386.45" y="261.65" width="1.9" height="1.9" fill="#e0289b"/>
<rect x="487.25" y="197.95" width="1.9" height="1.9" fill="#f5c23a"/>
<rect x="451.55" y="224.45" width="1.9" height="1.9" fill="#6ab851"/>
<rect x="395.1" y="174.6" width="2" height="2" fill="#50566f"/>
<text x="404.7" y="177.6" font-size="5.5" class="s" textLength="8.7" lengthAdjust="spacingAndGlyphs">IL-6</text>
<rect x="395.1" y="181" width="2" height="2" fill="#f5c23a"/>
<text x="404.7" y="184" font-size="5.5" class="s" textLength="16.1" lengthAdjust="spacingAndGlyphs">MCP-1</text>
<rect x="395.1" y="186.9" width="2" height="2" fill="#6ab851"/>
<text x="404.7" y="189.9" font-size="5.5" class="s" textLength="14.8" lengthAdjust="spacingAndGlyphs">TNF-a</text>
<rect x="395.1" y="193.4" width="2" height="2" fill="#e0289b"/>
<text x="404.7" y="196.4" font-size="5.5" class="s" textLength="8.7" lengthAdjust="spacingAndGlyphs">IL-2</text>
<line x1="389.1" y1="200.5" x2="402.1" y2="200.5" stroke="#b8b8b8" stroke-width="0.6" stroke-dasharray="1.2 0.9"/>
<text x="404.7" y="202.5" font-size="5.5" class="s" textLength="32.3" lengthAdjust="spacingAndGlyphs">Ground Truth</text>
<line x1="389.1" y1="206.3" x2="402.1" y2="206.3" stroke="#3a3a3a" stroke-width="1"/>
<text x="404.7" y="208.3" font-size="5.5" class="s" textLength="42.4" lengthAdjust="spacingAndGlyphs">Linear Regression</text>
<text x="460.5" y="250.8" font-size="5.3" class="s" textLength="45.1" lengthAdjust="spacingAndGlyphs">y=0.8807x+7.3457</text>
<text x="460.5" y="256.8" font-size="5.3" class="s" textLength="25.2" lengthAdjust="spacingAndGlyphs">R<tspan font-size="3.2" dy="-1.8">2</tspan><tspan dy="1.8">=0.9662</tspan></text>
<line x1="41.6" y1="321.6" x2="41.6" y2="412.9" stroke="#141414" stroke-width="1.15"/>
<line x1="41.05" y1="412.35" x2="155.5" y2="412.35" stroke="#141414" stroke-width="1.15"/>
<line x1="38.7" y1="323.4" x2="41.6" y2="323.4" stroke="#141414" stroke-width="1"/>
<line x1="38.7" y1="337.6" x2="41.6" y2="337.6" stroke="#141414" stroke-width="1"/>
<line x1="38.7" y1="351.8" x2="41.6" y2="351.8" stroke="#141414" stroke-width="1"/>
<line x1="38.7" y1="366" x2="41.6" y2="366" stroke="#141414" stroke-width="1"/>
<line x1="38.7" y1="380.2" x2="41.6" y2="380.2" stroke="#141414" stroke-width="1"/>
<line x1="38.7" y1="394.4" x2="41.6" y2="394.4" stroke="#141414" stroke-width="1"/>
<line x1="38.7" y1="408.6" x2="41.6" y2="408.6" stroke="#141414" stroke-width="1"/>
<line x1="44.6" y1="412.35" x2="44.6" y2="415.25" stroke="#141414" stroke-width="1"/>
<line x1="76.3" y1="412.35" x2="76.3" y2="415.25" stroke="#141414" stroke-width="1"/>
<line x1="108" y1="412.35" x2="108" y2="415.25" stroke="#141414" stroke-width="1"/>
<line x1="139.7" y1="412.35" x2="139.7" y2="415.25" stroke="#141414" stroke-width="1"/>
<text x="35.6" y="325.6" font-size="6.3" text-anchor="end" textLength="16.75" lengthAdjust="spacingAndGlyphs">10000</text>
<text x="35.6" y="339.8" font-size="6.3" text-anchor="end" textLength="13.4" lengthAdjust="spacingAndGlyphs">1000</text>
<text x="35.6" y="354" font-size="6.3" text-anchor="end" textLength="10.05" lengthAdjust="spacingAndGlyphs">100</text>
<text x="35.6" y="368.2" font-size="6.3" text-anchor="end" textLength="6.7" lengthAdjust="spacingAndGlyphs">10</text>
<text x="35.6" y="382.4" font-size="6.3" text-anchor="end" textLength="3.35" lengthAdjust="spacingAndGlyphs">1</text>
<text x="35.6" y="396.6" font-size="6.3" text-anchor="end" textLength="8.3" lengthAdjust="spacingAndGlyphs">0.1</text>
<text x="35.6" y="410.8" font-size="6.3" text-anchor="end" textLength="11.65" lengthAdjust="spacingAndGlyphs">0.01</text>
<text x="44.6" y="424" font-size="6.3" text-anchor="middle" textLength="3.4" lengthAdjust="spacingAndGlyphs">0</text>
<text x="76.3" y="424" font-size="6.3" text-anchor="middle" textLength="10.2" lengthAdjust="spacingAndGlyphs">200</text>
<text x="108" y="424" font-size="6.3" text-anchor="middle" textLength="10.2" lengthAdjust="spacingAndGlyphs">400</text>
<text x="139.7" y="424" font-size="6.3" text-anchor="middle" textLength="10.2" lengthAdjust="spacingAndGlyphs">600</text>
<text x="54.6" y="435.6" font-size="8.2" class="t" textLength="88.5" lengthAdjust="spacingAndGlyphs">Antigen incubation time (sec)</text>
<text x="0" y="0" font-size="8.5" text-anchor="middle" class="t" textLength="38" lengthAdjust="spacingAndGlyphs" transform="translate(16.6 366.4) rotate(-90)">LOD (pg/mL)</text>
<text x="7.4" y="314.7" font-size="12" textLength="8.6" lengthAdjust="spacingAndGlyphs" font-weight="bold" fill="#000">G</text>
<path d="M50.7 323.24 51.2 324.26 51.7 325.19 52.2 326.06 52.7 326.85 53.2 327.6 53.7 328.29 54.2 328.95 54.7 329.56 55.2 330.15 55.7 330.7 56.2 331.23 56.7 331.73 57.2 332.21 57.7 332.68 58.2 333.12 58.7 333.54 59.2 333.95 59.7 334.35 60.2 334.73 62.2 336.13 64.2 337.37 66.2 338.49 68.2 339.5 70.2 340.43 72.2 341.28 74.2 342.07 76.2 342.81 78.2 343.5 80.2 344.15 82.2 344.76 84.2 345.35 86.2 345.9 88.2 346.42 90.2 346.92 92.2 347.4 94.2 347.86 96.2 348.3 98.2 348.73 100.2 349.13 102.2 349.53 104.2 349.91 106.2 350.27 108.2 350.63 110.2 350.97 112.2 351.3 114.2 351.63 116.2 351.94 118.2 352.25 120.2 352.54 122.2 352.83 124.2 353.11 126.2 353.39 128.2 353.65 130.2 353.92 132.2 354.17 134.2 354.42 136.2 354.66 138.2 354.9 139.9 355.1" fill="none" stroke="#6f7389" stroke-width="1"/>
<path d="M49.1 323.18 49.6 324.27 50.1 325.28 50.6 326.22 51.1 327.1 51.6 327.92 52.1 328.7 52.6 329.43 53.1 330.12 53.6 330.78 54.1 331.4 54.6 332 55.1 332.57 55.6 333.12 56.1 333.65 56.6 334.15 57.1 334.64 57.6 335.11 58.1 335.56 58.6 336 59.1 336.42 59.6 336.84 60.1 337.23 62.1 338.72 64.1 340.05 66.1 341.26 68.1 342.37 70.1 343.39 72.1 344.34 74.1 345.22 76.1 346.05 78.1 346.83 80.1 347.57 82.1 348.26 84.1 348.92 86.1 349.55 88.1 350.16 90.1 350.73 92.1 351.28 94.1 351.81 96.1 352.32 98.1 352.81 100.1 353.28 102.1 353.73 104.1 354.17 106.1 354.6 108.1 355.01 110.1 355.41 112.1 355.8 114.1 356.18 116.1 356.54 118.1 356.9 120.1 357.25 122.1 357.59 124.1 357.92 126.1 358.24 128.1 358.55 130.1 358.86 132.1 359.16 134.1 359.45 136.1 359.74 138.1 360.02 139.9 360.27" fill="none" stroke="#55596c" stroke-width="0.95" stroke-dasharray="1.3 1.2"/>
<path d="M47.9 341.78 48.4 343.44 48.9 344.9 49.4 346.2 49.9 347.37 50.4 348.43 50.9 349.41 51.4 350.32 51.9 351.16 52.4 351.94 52.9 352.68 53.4 353.37 53.9 354.03 54.4 354.65 54.9 355.24 55.4 355.8 55.9 356.34 56.4 356.86 56.9 357.35 57.4 357.82 57.9 358.28 58.4 358.72 58.9 359.14 59.4 359.55 59.9 359.94 60.4 360.32 62.4 361.74 64.4 363.01 66.4 364.15 68.4 365.2 70.4 366.16 72.4 367.05 74.4 367.88 76.4 368.65 78.4 369.38 80.4 370.06 82.4 370.71 84.4 371.32 86.4 371.91 88.4 372.46 90.4 373 92.4 373.51 94.4 373.99 96.4 374.46 98.4 374.91 100.4 375.35 102.4 375.77 104.4 376.17 106.4 376.57 108.4 376.95 110.4 377.31 112.4 377.67 114.4 378.02 116.4 378.35 118.4 378.68 120.4 379 122.4 379.31 124.4 379.61 126.4 379.91 128.4 380.2 130.4 380.48 132.4 380.75 134.4 381.02 136.4 381.28 138.4 381.54 139.9 381.73" fill="none" stroke="#6db954" stroke-width="1"/>
<path d="M47.4 344.35 47.9 346.14 48.4 347.72 48.9 349.13 49.4 350.4 49.9 351.55 50.4 352.62 50.9 353.6 51.4 354.52 51.9 355.37 52.4 356.17 52.9 356.93 53.4 357.64 53.9 358.32 54.4 358.96 54.9 359.58 55.4 360.17 55.9 360.73 56.4 361.26 56.9 361.78 57.4 362.28 57.9 362.76 58.4 363.22 58.9 363.67 59.4 364.1 59.9 364.51 60.4 364.92 62.4 366.42 64.4 367.77 66.4 369 68.4 370.11 70.4 371.14 72.4 372.1 74.4 372.99 76.4 373.82 78.4 374.6 80.4 375.34 82.4 376.04 84.4 376.71 86.4 377.34 88.4 377.94 90.4 378.52 92.4 379.07 94.4 379.6 96.4 380.11 98.4 380.6 100.4 381.07 102.4 381.52 104.4 381.96 106.4 382.39 108.4 382.8 110.4 383.2 112.4 383.59 114.4 383.97 116.4 384.33 118.4 384.69 120.4 385.04 122.4 385.37 124.4 385.7 126.4 386.02 128.4 386.34 130.4 386.64 132.4 386.94 134.4 387.24 136.4 387.52 138.4 387.8 139.9 388.01" fill="none" stroke="#6db954" stroke-width="0.9" stroke-dasharray="1.2 1.2"/>
<path d="M47.8 364.24 48.3 366.61 48.8 368.48 49.3 370.02 49.8 371.32 50.3 372.46 50.8 373.47 51.3 374.37 51.8 375.18 52.3 375.93 52.8 376.62 53.3 377.26 53.8 377.85 54.3 378.41 54.8 378.93 55.3 379.43 55.8 379.89 56.3 380.34 56.8 380.76 57.3 381.16 57.8 381.55 58.3 381.92 58.8 382.27 59.3 382.61 59.8 382.94 60.3 383.25 62.3 384.41 64.3 385.44 66.3 386.35 68.3 387.18 70.3 387.94 72.3 388.63 74.3 389.28 76.3 389.88 78.3 390.44 80.3 390.97 82.3 391.47 84.3 391.94 86.3 392.39 88.3 392.81 90.3 393.22 92.3 393.61 94.3 393.98 96.3 394.33 98.3 394.67 100.3 395 102.3 395.32 104.3 395.63 106.3 395.92 108.3 396.21 110.3 396.49 112.3 396.75 114.3 397.01 116.3 397.27 118.3 397.51 120.3 397.75 122.3 397.99 124.3 398.21 126.3 398.43 128.3 398.65 130.3 398.86 132.3 399.06 134.3 399.26 136.3 399.46 138.3 399.65 139.9 399.8" fill="none" stroke="#f1c548" stroke-width="1.2"/>
<path d="M47.6 373.61 48.1 375.63 48.6 377.3 49.1 378.74 49.6 380 50.1 381.12 50.6 382.12 51.1 383.04 51.6 383.87 52.1 384.65 52.6 385.37 53.1 386.04 53.6 386.66 54.1 387.25 54.6 387.81 55.1 388.34 55.6 388.84 56.1 389.32 56.6 389.78 57.1 390.22 57.6 390.64 58.1 391.04 58.6 391.42 59.1 391.8 59.6 392.16 60.1 392.5 62.1 393.78 64.1 394.91 66.1 395.93 68.1 396.86 70.1 397.7 72.1 398.48 74.1 399.21 76.1 399.88 78.1 400.52 80.1 401.11 82.1 401.67 84.1 402.21 86.1 402.71 88.1 403.19 90.1 403.65 92.1 404.09 94.1 404.51 96.1 404.92 98.1 405.31 100.1 405.68 102.1 406.04 104.1 406.39 106.1 406.72 108.1 407.05 110.1 407.36 112.1 407.67 114.1 407.97 116.1 408.26 118.1 408.54 120.1 408.81 122.1 409.07 124.1 409.33 126.1 409.58 128.1 409.83 130.1 410.07 132.1 410.3 134.1 410.53 136.1 410.76 138.1 410.98 139.9 411.17" fill="none" stroke="#f0c038" stroke-width="1.1" stroke-dasharray="1.2 1.2"/>
<rect x="45.75" y="344.15" width="1.9" height="1.9" fill="#f5c23a"/>
<rect x="48.25" y="348.45" width="1.9" height="1.9" fill="#f5c23a"/>
<rect x="53.25" y="360.15" width="1.9" height="1.9" fill="#f5c23a"/>
<rect x="72.05" y="366.15" width="1.9" height="1.9" fill="#f5c23a"/>
<rect x="91.35" y="366.45" width="1.9" height="1.9" fill="#f5c23a"/>
<rect x="138.95" y="377.55" width="1.9" height="1.9" fill="#f5c23a"/>
<rect x="45.75" y="351.45" width="1.9" height="1.9" fill="#6ab851"/>
<rect x="48.25" y="355.55" width="1.9" height="1.9" fill="#6ab851"/>
<rect x="53.25" y="364.55" width="1.9" height="1.9" fill="#6ab851"/>
<rect x="72.05" y="370.25" width="1.9" height="1.9" fill="#6ab851"/>
<rect x="91.35" y="373.55" width="1.9" height="1.9" fill="#6ab851"/>
<rect x="138.95" y="379.85" width="1.9" height="1.9" fill="#6ab851"/>
<rect x="45.75" y="356.05" width="1.9" height="1.9" fill="#e0289b"/>
<rect x="48.45" y="358.05" width="1.9" height="1.9" fill="#e0289b"/>
<rect x="53.25" y="369.95" width="1.9" height="1.9" fill="#e0289b"/>
<rect x="72.05" y="375.35" width="1.9" height="1.9" fill="#e0289b"/>
<rect x="91.35" y="378.05" width="1.9" height="1.9" fill="#e0289b"/>
<rect x="138.95" y="384.65" width="1.9" height="1.9" fill="#e0289b"/>
<rect x="45.75" y="359.75" width="1.9" height="1.9" fill="#50566f"/>
<rect x="48.25" y="363.75" width="1.9" height="1.9" fill="#50566f"/>
<rect x="53.25" y="372.65" width="1.9" height="1.9" fill="#50566f"/>
<rect x="72.05" y="378.35" width="1.9" height="1.9" fill="#50566f"/>
<rect x="91.35" y="382.75" width="1.9" height="1.9" fill="#50566f"/>
<rect x="138.95" y="389.85" width="1.9" height="1.9" fill="#50566f"/>
<rect x="148.2" y="356.1" width="2" height="2" fill="#50566f"/>
<text x="158.2" y="359.2" font-size="5.9" textLength="8.9" lengthAdjust="spacingAndGlyphs">IL-6</text>
<rect x="148.2" y="362.7" width="2" height="2" fill="#6ab851"/>
<text x="158.2" y="365.8" font-size="5.9" textLength="14.9" lengthAdjust="spacingAndGlyphs">TNF-a</text>
<rect x="148.2" y="368.8" width="2" height="2" fill="#f5c23a"/>
<text x="158.2" y="371.9" font-size="5.9" textLength="16.2" lengthAdjust="spacingAndGlyphs">MCP-1</text>
<rect x="148.2" y="374.8" width="2" height="2" fill="#e0289b"/>
<text x="158.2" y="377.9" font-size="5.9" textLength="8.6" lengthAdjust="spacingAndGlyphs">IL-2</text>
<line x1="178.4" y1="349.9" x2="189.6" y2="349.9" stroke="#9499b0" stroke-width="1"/>
<text x="192.8" y="352.1" font-size="5.7" textLength="50.7" lengthAdjust="spacingAndGlyphs">K<tspan font-size="3.3" dy="0.9">d</tspan><tspan dy="-0.9">=10</tspan><tspan font-size="3.1" dy="-2.1">-8</tspan><tspan dy="2.1"> Lower-bound</tspan></text>
<line x1="178.4" y1="356.8" x2="189.6" y2="356.8" stroke="#8d92a6" stroke-width="1" stroke-dasharray="1.2 1.2"/>
<text x="192.8" y="359" font-size="5.7" textLength="51" lengthAdjust="spacingAndGlyphs">K<tspan font-size="3.3" dy="0.9">d</tspan><tspan dy="-0.9">=10</tspan><tspan font-size="3.1" dy="-2.1">-8</tspan><tspan dy="2.1"> Upper-bound</tspan></text>
<line x1="178.4" y1="363.3" x2="189.6" y2="363.3" stroke="#7cc064" stroke-width="1"/>
<text x="192.8" y="365.5" font-size="5.7" textLength="50.7" lengthAdjust="spacingAndGlyphs">K<tspan font-size="3.3" dy="0.9">d</tspan><tspan dy="-0.9">=10</tspan><tspan font-size="3.1" dy="-2.1">-9</tspan><tspan dy="2.1"> Lower-bound</tspan></text>
<line x1="178.4" y1="370.2" x2="189.6" y2="370.2" stroke="#7cc064" stroke-width="1" stroke-dasharray="1.2 1.2"/>
<text x="192.8" y="372.4" font-size="5.7" textLength="51" lengthAdjust="spacingAndGlyphs">K<tspan font-size="3.3" dy="0.9">d</tspan><tspan dy="-0.9">=10</tspan><tspan font-size="3.1" dy="-2.1">-9</tspan><tspan dy="2.1"> Upper-bound</tspan></text>
<line x1="178.4" y1="376.6" x2="189.6" y2="376.6" stroke="#f4d07a" stroke-width="1.6"/>
<text x="192.8" y="378.8" font-size="5.7" textLength="52.2" lengthAdjust="spacingAndGlyphs">K<tspan font-size="3.3" dy="0.9">d</tspan><tspan dy="-0.9">=10</tspan><tspan font-size="3.1" dy="-2.1">-10</tspan><tspan dy="2.1"> Lower-bound</tspan></text>
<line x1="178.4" y1="383.4" x2="189.6" y2="383.4" stroke="#f2c84a" stroke-width="1" stroke-dasharray="1.2 1.2"/>
<text x="192.8" y="385.6" font-size="5.7" textLength="53.2" lengthAdjust="spacingAndGlyphs">K<tspan font-size="3.3" dy="0.9">d</tspan><tspan dy="-0.9">=10</tspan><tspan font-size="3.1" dy="-2.1">-10</tspan><tspan dy="2.1"> Upper-bound</tspan></text>
<rect x="0" y="0" width="520" height="1.05" fill="#000"/>
<rect x="0" y="0" width="1.1" height="445" fill="#000"/>
<rect x="518.7" y="0" width="1.3" height="445" fill="#000"/>
<rect x="0" y="443.75" width="520" height="1.25" fill="#000"/>
</svg>
</body></html>
